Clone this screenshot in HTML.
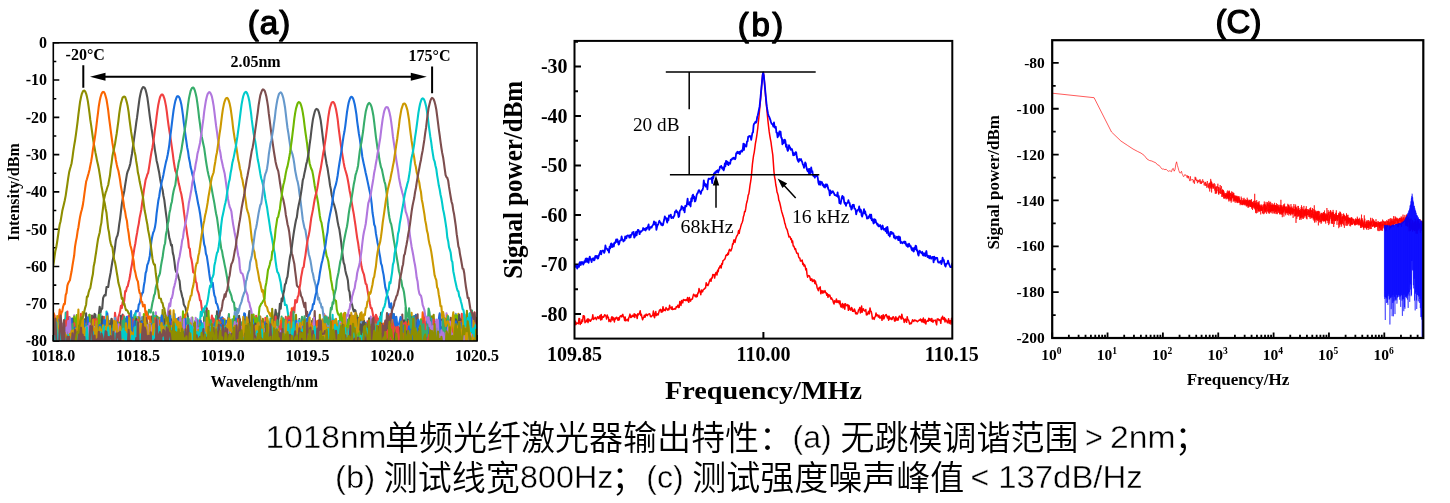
<!DOCTYPE html>
<html lang="zh-CN"><head><meta charset="utf-8"><title>1018nm单频光纤激光器输出特性</title>
<style>html,body{margin:0;padding:0;background:#fff}body{width:1450px;height:503px;overflow:hidden;font-family:"Liberation Sans","Noto Sans CJK SC",sans-serif}svg{display:block}</style>
</head><body>
<svg width="1450" height="503" viewBox="0 0 1450 503">
<rect width="1450" height="503" fill="#fff"/>
<g id="chartA">
<clipPath id="ca"><rect x="53.3" y="42.8" width="423.7" height="298.2"/></clipPath>
<path d="M53.30 42.80h6M53.30 61.44h3M53.30 80.07h6M53.30 98.71h3M53.30 117.35h6M53.30 135.99h3M53.30 154.62h6M53.30 173.26h3M53.30 191.90h6M53.30 210.54h3M53.30 229.18h6M53.30 247.81h3M53.30 266.45h6M53.30 285.09h3M53.30 303.73h6M53.30 322.36h3M53.30 341.00h6M53.30 341.00v-6M95.67 341.00v-3M138.04 341.00v-6M180.41 341.00v-3M222.78 341.00v-6M265.15 341.00v-3M307.52 341.00v-6M349.89 341.00v-3M392.26 341.00v-6M434.63 341.00v-3M477.00 341.00v-6" stroke="#000" stroke-width="1.6" fill="none"/>
<g clip-path="url(#ca)"><g fill="none" stroke-width="21" stroke-linejoin="round" transform="scale(.1)">
<path stroke="#515151" d="M529 3340l9 130 8 0 8-169 9-51 9 163 8 57 9-38 8 38 9 0 8-77 9-37 8 114 9-48 8 35 9-216 8 10 9 216 8-182 9 138 8-108 9 155 8-160 9-7 8 167 9-135 8-93 9 157 8-140 9 211 8 0 9 0 8-185 9 185 8-169 9 106 8-121 9 62 8 23 9-82 8-28 9-24 8-1 9 35 8 105 9-39 8 69 9-93 8-15 9-114 8-36 9 147 8-29 9-58 8-57 9-84 8 60 9-41 8 2 9-106 8-20 9-13 8 5 9-83 8-1 9 0 8-59 9-46 8-43 9-59 8-48 9-41 8-37 9-63 8-69 9-34 8-16 9-44 8-68 9-57 8-68 9-73 8-53 9-43 8-39 9-61 8-50 9-56 8-29 9-19 8-26 9-32 8-50 9-50 8-61 9-60 8-59 9-64 8-63 9-58 8-63 9-69 8-58 9-44 8-34 9-21 8-12 9 1 8 7 9 20 8 31 9 42 8 57 9 69 8 66 9 64 8 56 9 54 8 55 9 48 8 60 9 51 8 55 9 36 8 42 9 43 8 54 9 50 8 37 9 31 8 55 9 44 8 66 9 72 8 56 9 95 8 35 9 60 8 25 9 46 8-5 9 80 8 29 9 64 8 69 9 29 8 2 9 28 8 32 9 28 8 82 9 33 8 37 9 28 8 56 9 16 8 14 9 47 8 5 9 57 8 20 9 46 8 10 9-16 8 24 9 98 8-130 9 57 8 32 9 20 8 98 9-136 8 162 9 0 8-162 9 150 8-48 9 60 8-155 9 155 8-83 9-43 8-114 9 49 8 113 9-88 8 158 9-65 8-87 9-63 8 223 9-20 8-110 9-17 8 37 9 57 8 53 9 0 8-126 9 126 8-44 9 44 8-12 9 12 8-26 9-11 8-88 9 125 8 0 9-23 8-80 9 103 8-162 9 94 8 68 9-150 8 40 9 72 8 38 9 0 8-127 9-34 8 28 9 51 8 66 9-225 8 138 9-89 8 138 9-97 8-14 9 165 8 0 9-138 8-40 9 38 8 118 9 22 8 0 9-187 8 21 9 134 8-133 9 119 8 46 9-70 8 70 9-173 8 173 9-100 8-101 9 138 8 63 9-180 8 52 9-71 8 140 9-64 8 69 9-83 8 57 9 60 8 20 9 0 8-22 9-102 8-7 9 81 8-117 9-86 8 232 9-131 8 33 9 7 8 28 9 84 8-190 9 190 8-102 9-64 8 24 9 142 8 0 9-88 8 88 9-226 8-17 9 189 8 6 9-50 8-181 9 279 8 0 9-125 8 120 9-166 8-120 9 126 8 165 9-95 8 53 9 42 8-155 9-63 8 72 9-114 8 260 9-55 8 55 9-90 8-133 9 149 8 47 9-136 8-53 9 112 8 38 9-153 8 82 9-89 8 226 9-77 8 77 9 0 8 0 9-144 8-35 9 137 8 21 9-201 8 222 9-144 8 144 9 0 8-99 9 33 8 66 9 0 8-109 9 109 8-263 9 123 8 139 9 1 8-71 9 71 8 0 9-151 8 151 9-143 8 143 9-122 8 14 9-90 8 22 9 176 8-179 9-94 8 273 9-165 8 96 9-58 8-210 9 337 8-92 9 92 8-56 9-130 8 107 9 79 8-192 9 59 8 133 9-140 8 140 9-103 8 57 9-164 8 146 9 64 8-311 9 225 8-19 9 105 8-270 9 24 8 11 9 97 8-55 9 13 8 180 9-229 8 229 9-158 8-22 9 180 8-192 9 54 8 11 9 87 8-72 9-75 8 187 9 0 8-200 9 200 8-213 9 213 8-68 9-157 8 11 9 196 8-173 9 8 8 183 9-135 8 135 9-277 8 277 9-280 8 128 9-48 8 12 9 50 8 134 9-6 8 10 9 0 8-33 9-64 8 45 9-150 8 153 9-143 8 52 9-112 8 99 9-67 8 44 9 86 8-110 9 200 8-111 9-4 8-80 9 195 8-88 9-75 8-20 9 167 8 16 9-136 8 136 9-99 8 15 9-32 8-113 9 36 8 49 9-27 8 97 9-60 8 8 9 105 8-88 9-166 8 191 9-30 8 114 9 0 8 0 9 0 8-236 9 140 8 96 9-223 8 210 9 13 8-240 9 138 8-179 9 161 8 120 9-1 8-100 9 85 8-143 9 88 8-201 9 251 8-114 9-140 8 100 9-78 8 7 9 174 8 38 9 34 8-92 9 15"/>
<path stroke="#F14040" d="M529 3470l9-68 8-248 8 283 9-80 9 22 8-39 9 33 8 7 9 8 8-80 9 162 8-101 9-37 8-11 9 149 8-263 9 83 8 156 9-52 8-125 9-16 8 177 9 29 8-231 9 67 8 58 9 46 8-38 9 95 8-203 9 70 8-13 9-172 8 167 9 164 8-58 9-167 8-19 9 96 8 57 9-120 8 208 9-16 8-92 9-60 8 25 9-10 8 157 9-85 8-34 9 33 8 22 9-120 8 85 9 66 8-197 9 86 8 144 9-177 8-126 9 81 8-23 9-16 8 78 9 106 8-167 9 189 8-121 9-55 8 16 9 48 8 40 9-214 8 65 9 38 8 22 9-85 8-19 9-37 8-54 9 21 8-59 9 23 8-41 9-93 8 4 9-43 8-6 9-43 8-29 9-50 8-56 9-44 8-61 9-53 8-52 9-45 8-54 9-49 8-50 9-43 8-57 9-43 8-41 9-68 8-56 9-69 8-48 9-56 8-21 9-32 8-14 9-52 8-52 9-60 8-48 9-42 8-51 9-66 8-62 9-62 8-69 9-68 8-52 9-43 8-31 9-19 8-9 9 1 8 13 9 24 8 33 9 45 8 56 9 75 8 59 9 60 8 48 9 60 8 57 9 62 8 67 9 55 8 48 9 18 8 27 9 30 8 50 9 34 8 41 9 32 8 45 9 55 8 70 9 64 8 66 9 47 8 59 9 50 8 80 9 10 8 79 9 31 8 47 9 80 8 4 9 6 8 83 9 14 8 71 9 22 8 28 9 53 8 4 9 70 8 44 9-21 8-2 9 35 8-21 9 147 8 39 9-128 8 87 9 5 8-29 9-78 8 50 9 19 8 21 9 144 8-115 9-85 8 280 9 0 8-202 9 194 8-100 9-62 8-120 9 155 8-24 9-99 8 204 9 54 8-257 9 257 8 0 9 0 8-207 9-4 8 24 9-48 8 197 9-68 8 44 9-73 8 3 9 132 8-166 9-26 8-11 9 91 8-41 9 56 8 97 9-245 8-3 9 230 8-81 9-56 8-21 9 32 8 16 9-30 8 158 9-156 8 48 9-203 8 25 9 111 8 84 9-121 8 186 9-236 8 162 9-41 8 122 9-23 8-251 9 106 8 87 9-132 8 121 9-46 8-11 9 118 8-81 9-85 8 39 9 177 8-97 9-240 8 318 9-40 8-80 9 139 8 0 9-256 8 256 9-237 8 84 9-14 8-135 9 302 8 0 9-237 8-3 9 68 8 138 9 34 8-105 9-67 8 172 9-234 8 174 9-36 8-139 9 152 8-146 9 74 8 111 9-15 8-121 9-25 8-3 9-42 8 47 9 13 8 83 9-21 8 121 9-62 8-62 9 40 8 91 9 0 8-266 9 266 8-249 9 82 8-24 9-3 8 113 9 42 8-36 9-127 8 200 9-135 8-23 9-23 8 11 9 172 8-293 9 230 8-136 9 77 8 10 9 44 8-200 9 176 8 92 9 0 8-62 9-169 8 140 9-48 8-96 9 25 8-8 9 24 8 57 9-19 8-27 9 26 8 14 9 65 8 50 9-79 8 63 9 44 8-221 9 210 8-207 9 27 8 60 9-144 8 275 9-138 8-119 9 92 8 120 9 45 8-141 9 141 8-210 9 18 8 192 9-74 8-184 9 56 8 195 9 7 8 0 9-35 8-143 9 23 8-107 9 87 8-55 9 121 8 32 9 31 8 46 9-296 8 272 9-209 8 149 9-99 8-8 9-62 8 197 9-95 8 66 9-108 8-50 9 219 8-188 9 120 8 92 9-23 8-154 9 29 8 107 9-50 8-47 9-72 8 196 9 14 8-229 9 129 8 100 9-241 8 72 9 115 8-66 9-16 8 132 9-23 8-235 9 99 8 20 9-1 8 46 9-32 8-95 9 131 8-99 9 193 8-122 9-76 8 43 9 111 8-135 9-89 8 268 9-146 8 6 9-10 8 149 9-250 8 243 9-115 8-70 9-16 8-59 9 263 8-43 9-157 8 20 9 65 8 120 9-123 8 11 9 11 8 101 9-247 8 247 9-174 8 119 9-187 8 204 9-1 8-176 9 209 8-187 9 117 8-42 9-109 8 16 9 140 8-104 9-5 8-20 9 135 8-221 9 240 8 46 9-92 8-46 9-194 8 309 9-93 8 62 9-80 8 35 9-143 8 215 9-26 8-123 9 49 8-100 9 163 8-151 9 146 8 35 9-174 8 56 9 3"/>
<path stroke="#1A6FDF" d="M529 3448l9-105 8 69 8-3 9-38 9-155 8 254 9-30 8-37 9-62 8 129 9-203 8 22 9 100 8 32 9 31 8-223 9 13 8 195 9-233 8 72 9 58 8 14 9-20 8-95 9 237 8-205 9 28 8 43 9 81 8-87 9 91 8-50 9 99 8-117 9 117 8-119 9 119 8-95 9-17 8-64 9 121 8 55 9-86 8-103 9-4 8-26 9 9 8 19 9 191 8-284 9 118 8 86 9 75 8-116 9 121 8-92 9-106 8 35 9-41 8 204 9-171 8-64 9 99 8-20 9 80 8-70 9-42 8 146 9-90 8-7 9 60 8 22 9-229 8 153 9 112 8-126 9-20 8-26 9-37 8 96 9-104 8 14 9 19 8 57 9-134 8 158 9-23 8-7 9-32 8-78 9 29 8 17 9-77 8 82 9-25 8-80 9-17 8-27 9-1 8 7 9-69 8-9 9-44 8-29 9-34 8-2 9-73 8-42 9-81 8-22 9-60 8-17 9-34 8-39 9-85 8-69 9-46 8-33 9-20 8-30 9-58 8-82 9-67 8-61 9-43 8-56 9-44 8-45 9-35 8-36 9-49 8-39 9-42 8-29 9-42 8-45 9-62 8-73 9-67 8-68 9-71 8-62 9-51 8-38 9-27 8-19 9-4 8 5 9 14 8 26 9 36 8 49 9 65 8 72 9 65 8 60 9 63 8 58 9 44 8 60 9 41 8 52 9 31 8 40 9 30 8 49 9 41 8 51 9 39 8 46 9 48 8 35 9 51 8 60 9 68 8 57 9 67 8 60 9 27 8 65 9 26 8 51 9 62 8 64 9 61 8 27 9 1 8-1 9 78 8 48 9 21 8 56 9 9 8 26 9 40 8 68 9 15 8 31 9-45 8 34 9 65 8 26 9 18 8-5 9-64 8 13 9 24 8 52 9 22 8-29 9-54 8 182 9-27 8-108 9 132 8-193 9-10 8 129 9-94 8 158 9 18 8-131 9-109 8 36 9-127 8 8 9 165 8 20 9 122 8-116 9 34 8-67 9 172 8-97 9 97 8-214 9 214 8-286 9 61 8 144 9-66 8-138 9 285 8-169 9-86 8 74 9 22 8 49 9 68 8-67 9-14 8-50 9 12 8-31 9 68 8-14 9 4 8 59 9 2 8 73 9 0 8 0 9-142 8 142 9-136 8 136 9-22 8-98 9 7 8-66 9 33 8 84 9-38 8-83 9 60 8-80 9 166 8-5 9 42 8-199 9-49 8 173 9 14 8 61 9-212 8 120 9-50 8 13 9 129 8 0 9-241 8 22 9 13 8 104 9 65 8-85 9 98 8-125 9 44 8 27 9-68 8 51 9 77 8-20 9-73 8 21 9-96 8 46 9-10 8 150 9-98 8 98 9-64 8-103 9 111 8-26 9-56 8 59 9-134 8 144 9-29 8-134 9 97 8 29 9-162 8 122 9-86 8 57 9-5 8-57 9 68 8 81 9-25 8-9 9-103 8 17 9 61 8 17 9-16 8-73 9-54 8 121 9 123 8 29 9-26 8-249 9 275 8-86 9-50 8 94 9-95 8 137 9-168 8 14 9-61 8-63 9 278 8-282 9 67 8 158 9-171 8 71 9 132 8-58 9 83 8-192 9 89 8-138 9 134 8 8 9 76 8-246 9 169 8-134 9-10 8 80 9 23 8 46 9-35 8-47 9-20 8-38 9 33 8 67 9 96 8-16 9-48 8-89 9-21 8 146 9-21 8 88 9 0 8-174 9-152 8 283 9 4 8 25 9-114 8 128 9-303 8 193 9-118 8 209 9-102 8-99 9 220 8 0 9-162 8-122 9 149 8 107 9-99 8 127 9-201 8 61 9 9 8 93 9-164 8 202 9-187 8 136 9 51 8-47 9-121 8-54 9-99 8 144 9 54 8 10 9-43 8 90 9 5 8-91 9-23 8 175 9-128 8 40 9-41 8-124 9-34 8 115 9-64 8 25 9 211 8-154 9 154 8 0 9-107 8 16 9-136 8 128 9 99 8-97 9 58 8 39 9-189 8 80 9-135 8 100 9-121 8 211 9-9 8 0 9-62 8-115 9 79 8 161 9-146 8 146 9-109 8 48 9-199 8 86 9-51 8 99 9-81 8 128 9-82 8 16 9 0 8 15 9 108 8-153 9 59 8 43 9-63 8-57 9 56 8 25 9-101 8 213 9-185 8 102 9-42 8-7 9-142 8 274 9-196"/>
<path stroke="#37AD6B" d="M529 3354l9 50 8-147 8 156 9 57 9-3 8-49 9-205 8 225 9 32 8 0 9 0 8-96 9 72 8-99 9-219 8 279 9-21 8 45 9 39 8-152 9-15 8 167 9-177 8 168 9-111 8 120 9 0 8-29 9-139 8 74 9 34 8-12 9-26 8 98 9-2 8-36 9-211 8 167 9-12 8-75 9 169 8-197 9-125 8 322 9-96 8 96 9-169 8 5 9 81 8-33 9-38 8 133 9-249 8 262 9-80 8-242 9 237 8-121 9-58 8 53 9-10 8 229 9-155 8 10 9 145 8-117 9 117 8-86 9 76 8 10 9 0 8 0 9-150 8 150 9-187 8 187 9-100 8 14 9 86 8 0 9-155 8-45 9-41 8 58 9 183 8 0 9-239 8 116 9-96 8 214 9-128 8 85 9 48 8-198 9 193 8-316 9 199 8-16 9-72 8 106 9 15 8 37 9-68 8 4 9-124 8 111 9-61 8-40 9-2 8-69 9 11 8-44 9-39 8 13 9 15 8-42 9-53 8-32 9-46 8-15 9-62 8-31 9-19 8-52 9-18 8-23 9-68 8-47 9-44 8-61 9-54 8-26 9-90 8-35 9-68 8-26 9-83 8-33 9-53 8-27 9-65 8-42 9-35 8-23 9-71 8-68 9-38 8-51 9-35 8-42 9-39 8-53 9-55 8-47 9-49 8-54 9-64 8-67 9-75 8-56 9-44 8-34 9-22 8-11 9-2 8 10 9 22 8 31 9 40 8 56 9 69 8 73 9 65 8 64 9 59 8 39 9 41 8 37 9 66 8 58 9 57 8 45 9 42 8 30 9 39 8 35 9 47 8 44 9 47 8 43 9 58 8 45 9 40 8 60 9 66 8 56 9 64 8 62 9 28 8 50 9 40 8 43 9 42 8 44 9 51 8 63 9 42 8 27 9 20 8 24 9 44 8 14 9 10 8 75 9-19 8 28 9 54 8 29 9-21 8 36 9 15 8 39 9 33 8 3 9 32 8-105 9 83 8-48 9 175 8-93 9-5 8 132 9-98 8-92 9-61 8 200 9 31 8 20 9 0 8-129 9 101 8 4 9-112 8-54 9-50 8 28 9 115 8 97 9-75 8 75 9 0 8-86 9-25 8-134 9 174 8-3 9 31 8 43 9-296 8 94 9 51 8 56 9-165 8 127 9-201 8 251 9-70 8 152 9-303 8 154 9 93 8 45 9-10 8-75 9 96 8-100 9 101 8-182 9 65 8 30 9-120 8 123 9 47 8-59 9 96 8-216 9 216 8 0 9-52 8-137 9 179 8-173 9-119 8 302 9-25 8-281 9 306 8 0 9-84 8-160 9 190 8 7 9-45 8-82 9 174 8-68 9 68 8-53 9 26 8 27 9-123 8 123 9 0 8-64 9-115 8 161 9-135 8-64 9 163 8-99 9-114 8 131 9 23 8 86 9-160 8 62 9 110 8-10 9-201 8 99 9-70 8 69 9 128 8-118 9-23 8 141 9-16 8 16 9-81 8 81 9 0 8-183 9 98 8-26 9 111 8-93 9-111 8 37 9-75 8 242 9-233 8 206 9-55 8 82 9-219 8 146 9-183 8 256 9-183 8 169 9-26 8-87 9 127 8-41 9-161 8 143 9-35 8 94 9-107 8 107 9 0 8-252 9 214 8 38 9 0 8 0 9 0 8-241 9 241 8 0 9-115 8 115 9-270 8 221 9-10 8 36 9 23 8-143 9-23 8-51 9 217 8-168 9 168 8-141 9-106 8 247 9 0 8-53 9-143 8-6 9 202 8-173 9-57 8 40 9 39 8 101 9 9 8-88 9-64 8-45 9 152 8 86 9-222 8 222 9-393 8 248 9 90 8-34 9 89 8 0 9-135 8 23 9 112 8 0 9-184 8-44 9 228 8-155 9-14 8 169 9-147 8 147 9-271 8 117 9 126 8-148 9 176 8-26 9 26 8-138 9-92 8 176 9 54 8-195 9 165 8-152 9 90 8-15 9-50 8-87 9 70 8-42 9 9 8 91 9 63 8 53 9-134 8 134 9 0 8-196 9-48 8 55 9 189 8-14 9-158 8-32 9-35 8 171 9 68 8-264 9 87 8 176 9-78 8-90 9 169 8-309 9 309 8-213 9-3 8 216 9-92 8-64 9 98 8-271 9 158 8-39 9 82 8 128 9-155 8 155 9-339 8 315 9-341 8 365 9-31 8 31 9-98 8 2 9-94"/>
<path stroke="#B177DE" d="M529 3200l9 77 8 83 8 94 9-50 9-123 8 78 9-156 8 130 9 137 8-106 9-9 8 112 9-50 8-115 9 32 8-95 9 162 8-57 9-105 8 85 9 64 8 82 9-116 8 116 9-317 8 259 9-143 8-22 9 223 8-86 9 86 8 0 9-116 8 17 9 32 8 39 9-185 8 213 9-121 8 121 9 0 8-256 9 86 8 170 9 0 8-230 9 91 8 139 9-84 8 44 9-61 8 101 9-267 8 22 9 43 8 202 9 0 8 0 9-212 8 119 9-68 8 161 9-12 8-79 9-35 8 77 9-9 8-202 9 5 8 15 9 123 8 117 9-69 8-4 9 73 8 0 9-76 8 76 9-124 8 89 9 35 8-9 9-56 8-38 9 44 8-88 9 10 8 137 9-35 8-64 9-3 8-12 9-43 8 117 9 40 8-125 9 35 8-201 9 291 8-154 9 154 8-342 9 342 8-7 9-120 8 16 9-30 8 141 9-140 8-191 9 331 8-28 9-61 8-153 9 26 8 216 9-56 8-61 9 113 8 4 9-348 8 257 9-168 8-12 9 127 8-83 9 91 8-35 9-149 8 22 9 98 8-106 9 58 8-57 9-26 8-55 9-49 8 28 9-77 8-5 9-41 8-54 9-30 8-34 9-43 8-54 9-84 8-41 9-35 8-47 9-50 8-62 9-29 8-65 9-43 8-38 9-44 8-43 9-56 8-61 9-41 8-48 9-47 8-62 9-44 8-61 9-29 8-56 9-41 8-57 9-36 8-36 9-39 8-55 9-60 8-64 9-62 8-73 9-60 8-49 9-39 8-27 9-14 8-7 9 7 8 15 9 24 8 39 9 51 8 62 9 75 8 66 9 62 8 62 9 48 8 58 9 39 8 57 9 40 8 38 9 36 8 33 9 60 8 59 9 67 8 71 9 46 8 35 9 19 8 26 9 72 8 54 9 49 8 48 9 43 8 63 9 59 8 52 9 31 8 96 9 44 8 6 9 6 8 27 9 48 8 63 9 33 8 21 9 22 8 61 9 13 8 40 9 26 8 47 9 23 8 19 9-11 8 65 9 54 8 53 9-36 8 40 9-38 8 77 9-32 8-20 9-111 8 91 9-20 8 51 9 27 8-70 9-80 8 56 9 83 8-60 9-103 8 29 9 244 8-305 9 232 8-17 9 90 8-188 9 188 8-134 9-67 8-16 9 217 8-49 9-28 8 11 9 66 8-140 9 50 8-166 9 137 8 72 9 47 8 0 9-23 8-4 9 27 8-21 9-119 8 131 9-39 8 48 9-273 8 162 9 111 8-168 9 62 8 59 9-89 8-65 9 78 8-101 9 139 8 37 9-212 8 190 9-105 8 100 9 75 8-5 9 5 8-247 9 247 8-55 9-17 8 72 9-110 8 24 9 86 8 0 9-130 8 130 9-333 8 123 9 210 8 0 9 0 8 0 9-229 8 185 9 11 8-50 9 83 8-160 9 160 8-43 9 19 8 24 9-100 8-24 9 124 8-262 9 44 8 218 9-234 8 234 9-57 8-78 9 86 8-132 9 97 8 84 9 0 8 0 9-161 8-43 9 32 8-22 9-124 8 160 9-50 8 208 9-26 8-211 9 237 8-55 9 55 8-222 9 3 8 5 9 181 8-34 9-21 8 29 9 59 8-33 9-110 8-161 9 304 8 0 9-218 8 74 9 144 8-141 9 141 8 0 9-23 8-235 9 106 8 81 9 71 8 0 9 0 8 0 9 0 8-203 9 203 8 0 9-42 8-175 9 144 8 73 9 0 8 0 9 0 8-194 9 36 8-50 9 168 8-177 9 50 8 157 9-174 8-73 9 257 8-51 9-161 8 89 9-71 8 113 9-40 8 10 9-40 8 151 9-103 8 103 9-152 8 131 9-231 8 6 9 246 8-81 9 81 8 0 9-158 8 6 9-44 8 196 9-69 8-100 9 21 8 148 9 0 8-143 9-93 8 236 9-3 8 3 9-126 8 126 9-3 8 3 9-150 8 150 9-124 8 108 9 16 8-9 9-39 8-206 9 254 8-197 9 162 8 35 9-73 8 73 9-337 8 337 9-10 8-134 9 144 8-60 9 60 8 0 9-117 8-1 9 50 8 68 9 0 8-227 9 227 8 0 9-19 8-142 9 102 8 59 9-225 8 225 9 0 8-43 9-44 8-85 9 172 8-63 9-30 8-185 9 240 8-111 9 149 8-154 9-73 8 49 9 134"/>
<path stroke="#CC9900" d="M529 3353l9 10 8-140 8 152 9-74 9 0 8-49 9 29 8-27 9 216 8-93 9 21 8-159 9 84 8 95 9-162 8 132 9-69 8 114 9-157 8 93 9 2 8 99 9-232 8 116 9-79 8-7 9 31 8-64 9 218 8-12 9-157 8 79 9 19 8 52 9 5 8-146 9-12 8 189 9-43 8-95 9 41 8-71 9 168 8 0 9-41 8-75 9 97 8-168 9 2 8 94 9 25 8-183 9 249 8-117 9 117 8-251 9 183 8 68 9-190 8-10 9 200 8-241 9 132 8 102 9-28 8-171 9-57 8 104 9-120 8 43 9 52 8 90 9 55 8-5 9-130 8 174 9 0 8-89 9-69 8-35 9 19 8 165 9-163 8 79 9-53 8 131 9-269 8 239 9-67 8-84 9-36 8 116 9 116 8 0 9-79 8-80 9 34 8-1 9 24 8-93 9 125 8-79 9 71 8-208 9 19 8 83 9 38 8-3 9-50 8 194 9-259 8 263 9-148 8 149 9 0 8-185 9 2 8 120 9-94 8-34 9-31 8-19 9-1 8 78 9-127 8 291 9-231 8 21 9 153 8-199 9 97 8 86 9-234 8 208 9-54 8 77 9-87 8-203 9 184 8 74 9-33 8 79 9 1 8-61 9-35 8 12 9-98 8 15 9 99 8-49 9 0 8-102 9 27 8 10 9-20 8-62 9-19 8-19 9-42 8-47 9-17 8-40 9-7 8-62 9-31 8-47 9-79 8-64 9-38 8-3 9-70 8-30 9-62 8-60 9-64 8-41 9-61 8-33 9-55 8-31 9-47 8-47 9-63 8-44 9-53 8-52 9-45 8-22 9-25 8-57 9-51 8-54 9-41 8-58 9-61 8-62 9-55 8-67 9-72 8-56 9-45 8-30 9-25 8-10 9-2 8 9 9 22 8 29 9 44 8 55 9 68 8 74 9 62 8 51 9 44 8 46 9 58 8 57 9 37 8 50 9 33 8 52 9 30 8 51 9 35 8 72 9 60 8 65 9 31 8 22 9 43 8 56 9 86 8 72 9 42 8 61 9 26 8 59 9 26 8 62 9 42 8 45 9 54 8 22 9 46 8 38 9-14 8 60 9 46 8 44 9 12 8 10 9 38 8 11 9 20 8 19 9-33 8 15 9 98 8 1 9-18 8 71 9 13 8-47 9 100 8 26 9-44 8-22 9-138 8 131 9 155 8-24 9 24 8-69 9-196 8 265 9-146 8-57 9 203 8-104 9-92 8 49 9-47 8 125 9-143 8-33 9 19 8 143 9 83 8-33 9-192 8 89 9-17 8-102 9 53 8 41 9-87 8 71 9 86 8-215 9 105 8 35 9-15 8 181 9-181 8 57 9 124 8-191 9 191 8-138 9 16 8-99 9 152 8-166 9 73 8-4 9-111 8 164 9-162 8 275 9-35 8-35 9 70 8-107 9-77 8 184 9-150 8-17 9 124 8-122 9 124 8 41 9-74 8-74 9-8 8 156 9-26 8-94 9-123 8 243 9-211 8 29 9 124 8-103 9-70 8 111 9 120 8-80 9-147 8-11 9-104 8 115 9 36 8 57 9 4 8 60 9 70 8-64 9-124 8 22 9 69 8-235 9 141 8 165 9 26 8-161 9 142 8-76 9 2 8-8 9 36 8-69 9 134 8 0 9-217 8 98 9 119 8-262 9 89 8 15 9 158 8-47 9-36 8 24 9 16 8-201 9 244 8 0 9-119 8 113 9-183 8 140 9-172 8 144 9-135 8-17 9 191 8-129 9 0 8 20 9-160 8 159 9 148 8-104 9 104 8-133 9 133 8-198 9 19 8 23 9 104 8 52 9-118 8-98 9 42 8 82 9 92 8-67 9-134 8 201 9-239 8-104 9 343 8-2 9-171 8 42 9-66 8 155 9-40 8-68 9 17 8-51 9 163 8-246 9 267 8-116 9 116 8 0 9-145 8 145 9-186 8-36 9 33 8 135 9-103 8 157 9-100 8-82 9-54 8 236 9-44 8-82 9-94 8 57 9 67 8 36 9-186 8 81 9-111 8 232 9-143 8-70 9 186 8-247 9 209 8 87 9-86 8-103 9 119 8 2 9-33 8-7 9 32 8-73 9 171 8-90 9-241 8 170 9-99 8 196 9-87 8-13 9-32 8 196 9-140 8-73 9 43 8 170 9 0 8-150 9-55 8 82 9 76 8 47 9-133 8-81 9-8 8-67 9 214"/>
<path stroke="#00CBCC" d="M529 3226l9 49 8 75 8-22 9 44 9-98 8 191 9-269 8 151 9-28 8 4 9-66 8 11 9 9 8-84 9 108 8-178 9 263 8-64 9 3 8 118 9-120 8-23 9-96 8 266 9-150 8 102 9-99 8 26 9 50 8 47 9-61 8 8 9-63 8 55 9-138 8 97 9 121 8-28 9-175 8-1 9 150 8-176 9 235 8 0 9-119 8 110 9 9 8-148 9-31 8 7 9-2 8-22 9 44 8 152 9 0 8-156 9 65 8-26 9 0 8 45 9-186 8 227 9-324 8 235 9 8 8 90 9 22 8-195 9-31 8 179 9 47 8-106 9-8 8-54 9-45 8 128 9 85 8-120 9-23 8-91 9 178 8-78 9-64 8 30 9 164 8-56 9-74 8 82 9 52 8 0 9-210 8-4 9 214 8-173 9 173 8-223 9-114 8 160 9 77 8 68 9 32 8-129 9 129 8-107 9-158 8 101 9-33 8 187 9-142 8 21 9 75 8-76 9 132 8-204 9 139 8-117 9 60 8-19 9-45 8-124 9 251 8-46 9 69 8-172 9 34 8-18 9-102 8 10 9 46 8-23 9 252 8-50 9-99 8-58 9 199 8-289 9 239 8-79 9 29 8-88 9 205 8-141 9 104 8-60 9-48 8-9 9 21 8 133 9-76 8-179 9 172 8-52 9 55 8-103 9 183 8-89 9-82 8-27 9 49 8 25 9-94 8-36 9 30 8 103 9-64 8 142 9-151 8 21 9-28 8-75 9 49 8-34 9 10 8-100 9 40 8-35 9-39 8 28 9-49 8 11 9-33 8-31 9-57 8-57 9-41 8 12 9-85 8-13 9-29 8-87 9-39 8-44 9-42 8-13 9-49 8-61 9-66 8-88 9-71 8-35 9-43 8-42 9-37 8-38 9-65 8-44 9-55 8-28 9-64 8-39 9-60 8-30 9-42 8-41 9-43 8-53 9-55 8-61 9-65 8-66 9-72 8-59 9-48 8-36 9-24 8-12 9-6 8 7 9 20 8 25 9 39 8 54 9 63 8 73 9 68 8 59 9 52 8 34 9 60 8 64 9 62 8 36 9 53 8 50 9 46 8 25 9 38 8 33 9 56 8 54 9 47 8 41 9 64 8 51 9 60 8 58 9 42 8 47 9 49 8 48 9 44 8 73 9 62 8 44 9 11 8 22 9 41 8 35 9 73 8 24 9 31 8 27 9 67 8-3 9 7 8 50 9 61 8 34 9-1 8 35 9 35 8-58 9 70 8 61 9-59 8 84 9-57 8-69 9-30 8-3 9 68 8 195 9-174 8 23 9 54 8-97 9 191 8-227 9 168 8-112 9 49 8 65 9-143 8 136 9-35 8 40 9-194 8 231 9-57 8 34 9 48 8-224 9 101 8-42 9 88 8-74 9 18 8-78 9 148 8-151 9 3 8-79 9 219 8 71 9-224 8 124 9-73 8 77 9-225 8 321 9-275 8 201 9 74 8-36 9-33 8-191 9 163 8-163 9 179 8-170 9 126 8 93 9-15 8 47 9-74 8 74 9-111 8-64 9 175 8-163 9 36 8 50 9-103 8 114 9-60 8 30 9-29 8 125 9-110 8-96 9 82 8-31 9-59 8 214 9-238 8 98 9 34 8 71 9 12 8-67 9-5 8-15 9 36 8-83 9-67 8 123 9-20 8-116 9 210 8-99 9-72 8 38 9-37 8 119 9-188 8 154 9 112 8-41 9 41 8-200 9-28 8 120 9 75 8-120 9 27 8 5 9-62 8 97 9 30 8-164 9 220 8-156 9 156 8-115 9 52 8-73 9-16 8 56 9-133 8 133 9-30 8-108 9 234 8-83 9 61 8-201 9 223 8-138 9-35 8-141 9 265 8-137 9 9 8 29 9 18 8-59 9 49 8 42 9-53 8-5 9-74 8 139 9-138 8-7 9 24 8 110 9-30 8-51 9-16 8 199 9 0 8-179 9 3 8-54 9 191 8-107 9-154 8 34 9 172 8 47 9-178 8 192 9-11 8-92 9 75 8-24 9-166 8 2 9 104 8 83 9-75 8-40 9-18 8 26 9-47 8 112 9-17 8 121 9-204 8 204 9-80 8-55 9-135 8 91 9 164 8-21 9-81 8-184 9 216 8 42 9-179 8 149 9 73 8-84 9-65 8 12 9 112 8-130 9 44 8 15 9-52 8 148 9-154 8 81 9-89 8 108 9-172 8 104 9-95"/>
<path stroke="#7D4E4E" d="M529 3282l9 51 8-151 8 288 9-118 9 118 8-190 9 50 8-24 9-132 8 127 9 169 8-45 9-158 8 66 9-42 8 179 9 0 8-114 9-185 8 145 9 100 8-199 9 253 8-229 9 24 8 28 9 122 8-89 9 144 8-140 9-50 8-34 9 148 8-139 9 215 8-20 9-9 8-241 9 270 8-286 9 228 8 58 9-265 8 71 9 142 8-263 9 222 8-41 9-37 8 171 9-160 8 160 9 0 8-198 9 126 8 72 9 0 8-5 9-203 8 208 9-223 8 169 9 54 8-149 9 149 8 0 9-230 8 215 9-141 8 156 9-117 8 117 9-54 8-123 9 117 8 60 9 0 8 0 9 0 8-143 9 143 8-325 9 325 8-64 9-118 8-10 9 192 8-272 9 113 8-20 9-61 8 144 9-43 8 16 9-48 8 171 9-154 8 154 9-140 8-154 9 294 8-78 9 78 8 0 9-103 8-24 9 42 8 85 9-10 8-281 9 101 8 34 9 20 8-96 9 232 8-304 9 200 8-78 9 130 8-77 9-109 8 238 9 0 8 0 9 0 8 0 9-96 8-175 9 271 8-97 9 97 8-195 9 179 8 16 9 0 8-118 9-236 8 310 9-187 8 200 9-208 8 239 9-167 8 167 9-149 8 142 9 7 8-291 9 219 8 72 9-157 8 55 9-8 8-66 9 176 8 0 9-28 8 28 9-69 8-5 9 74 8-218 9 218 8 0 9-50 8-10 9-8 8 14 9-37 8-4 9-79 8-17 9-48 8 34 9 205 8-106 9 6 8 100 9-81 8-31 9-276 8 388 9 0 8-273 9 132 8 141 9-170 8 66 9-62 8 41 9 37 8-187 9 69 8-94 9 0 8-18 9-43 8-2 9-42 8-58 9-19 8-44 9 23 8-46 9-17 8-52 9-70 8-30 9-69 8-43 9-15 8-23 9-48 8-46 9-37 8-73 9-42 8-52 9-63 8-42 9-60 8-56 9-48 8-43 9-41 8-56 9-49 8-51 9-42 8-44 9-43 8-59 9-52 8-48 9-35 8-48 9-58 8-63 9-60 8-60 9-62 8-67 9-56 8-44 9-28 8-21 9-11 8 4 9 9 8 22 9 34 8 44 9 57 8 73 9 67 8 64 9 70 8 58 9 64 8 55 9 55 8 50 9 37 8 30 9 21 8 48 9 64 8 53 9 57 8 41 9 26 8 38 9 49 8 63 9 46 8 49 9 33 8 44 9 76 8 74 9 63 8 27 9 42 8 36 9 77 8 62 9 79 8 12 9 3 8 22 9 28 8 40 9 13 8 31 9 38 8 29 9-43 8 131 9-41 8 48 9 41 8 126 9-58 8-10 9-57 8 122 9 7 8-226 9 272 8-45 9 8 8-23 9-17 8 8 9 78 8-17 9 24 8 71 9-15 8-185 9 82 8 118 9-77 8-182 9 145 8-194 9 89 8 140 9 79 8 0 9-148 8 148 9-178 8-24 9 45 8 97 9 60 8 0 9 0 8-4 9-189 8 56 9-3 8 140 9-217 8 13 9 97 8-109 9-101 8 317 9-198 8 160 9 38 8-135 9-70 8-33 9 166 8-161 9 233 8 0 9-132 8 45 9-137 8 154 9-196 8 16 9 166 8-4 9 66 8 22 9 0 8 0 9-101 8 101 9-94 8-185 9 127 8 60 9-100 8 105 9-42 8-102 9 231 8-61 9-132 8 193 9-82 8 82 9-159 8 93 9 66 8 0 9-157 8 19 9 138 8-220 9-30 8 143 9 107 8-7 9-231 8 238 9-111 8-113 9 65 8 40 9 39 8-55 9 59 8 76 9-324 8 324 9 0 8-121 9 44 8 77 9 0 8 0 9-31 8-102 9 133 8-300 9 166 8 29 9-59 8-142 9 39 8 77 9-138 8 328 9 0 8 0 9-187 8 9 9 148 8-207 9 124 8 113 9-91 8 91 9-236 8 62 9 174 8-137 9-16 8 34 9-115 8-17 9 251 8-57 9-124 8 181 9-184 8 184 9-70 8-50 9-156 8 135 9-101 8 98 9 144 8-227 9 37 8 126 9 64 8 0 9-239 8-52 9 8 8 91 9 99 8-215 9 176 8 71 9 61 8 0 9-205 8 155 9 50 8-271 9 189 8 82 9-184 8 184 9 0 8 0 9 0 8 0 9 0 8-180 9 87 8 55 9 38 8-184 9-98 8 163 9 33 8 86 9-183"/>
<path stroke="#8E8E00" d="M529 2679l9-57 8-60 8-55 9-35 9-57 8-55 9-64 8-51 9-33 8-48 9-56 8-33 9-37 8-36 9-46 8-56 9-61 8-57 9-56 8-33 9-30 8-31 9-59 8-62 9-57 8-46 9-61 8-61 9-69 8-71 9-69 8-60 9-44 8-33 9-22 8-11 9-1 8 9 9 21 8 30 9 43 8 54 9 69 8 67 9 58 8 57 9 65 8 53 9 47 8 45 9 43 8 44 9 36 8 40 9 55 8 51 9 64 8 42 9 55 8 43 9 38 8 50 9 43 8 76 9 82 8 37 9 72 8 38 9 28 8 11 9 68 8 52 9 30 8 43 9 56 8 47 9 60 8 30 9 32 8 47 9 51 8-6 9 59 8-5 9 37 8 28 9-1 8 11 9 22 8 4 9 102 8-32 9 42 8 69 9 28 8 56 9-168 8 89 9 81 8-39 9-191 8 296 9 0 8-253 9 253 8-248 9 224 8-122 9-92 8 0 9 53 8 91 9 34 8-2 9-198 8 127 9-90 8 223 9-46 8-84 9 89 8-269 9 310 8-156 9-39 8 195 9-193 8 48 9-226 8 118 9 164 8-117 9 61 8 113 9-141 8 18 9-110 8 265 9 0 8 0 9-173 8-44 9 138 8-47 9 25 8 101 9 0 8-200 9 7 8-34 9 50 8 177 9-132 8-8 9 140 8-291 9 215 8-129 9 18 8 19 9-81 8 171 9-127 8 54 9 151 8-6 9 6 8 0 9-153 8 153 9-208 8 146 9 2 8 60 9-142 8 142 9-172 8-5 9 177 8-154 9 154 8-191 9 191 8 0 9-239 8 116 9-55 8 178 9-186 8 186 9-272 8 170 9 20 8 82 9 0 8-91 9-154 8 8 9 176 8 61 9 0 8-276 9 144 8 132 9-260 8 98 9-24 8-10 9 57 8 113 9 26 8 0 9 0 8-159 9 159 8-190 9-11 8-60 9-3 8-7 9 145 8 9 9 106 8-121 9 17 8 109 9 6 8-248 9 81 8 167 9-36 8-155 9 165 8-113 9-80 8 19 9 117 8 83 9-53 8-137 9 111 8-198 9-12 8 26 9 76 8 187 9-281 8 89 9 179 8 13 9-18 8-105 9 123 8-234 9 177 8-114 9 171 8-383 9 165 8 128 9 90 8-264 9 216 8 4 9 44 8 0 9-91 8-13 9 60 8 44 9-262 8-9 9 271 8-242 9 137 8 15 9-216 8 9 9 258 8-142 9 171 8 10 9-198 8 47 9-31 8-140 9 265 8-98 9 41 8 114 9-67 8 67 9-100 8 100 9 0 8-249 9 215 8-19 9-80 8 133 9 0 8 0 9-142 8 22 9 119 8-279 9 265 8 15 9-138 8 138 9-230 8 102 9 128 8-321 9 288 8-51 9-44 8-3 9-7 8 138 9-96 8 96 9-54 8-18 9-81 8 153 9-123 8 96 9-70 8 97 9-201 8 7 9 194 8-51 9 15 8 36 9 0 8-50 9 50 8-103 9-68 8 171 9-158 8-82 9 240 8-220 9-2 8-17 9 147 8-33 9 125 8-194 9 14 8 42 9 46 8 92 9 0 8-14 9 14 8-74 9 74 8-327 9 320 8 7 9-284 8 284 9-227 8-5 9 149 8 83 9-12 8-102 9-82 8 34 9 13 8 110 9-179 8 218 9 0 8-118 9-69 8 34 9-6 8 128 9-178 8 209 9-4 8 4 9 0 8-149 9-42 8 191 9-95 8-199 9 159 8-121 9 39 8-11 9 171 8-86 9-184 8 327 9-236 8 217 9-88 8-64 9 124 8-22 9 69 8-82 9 82 8-148 9 35 8-107 9 154 8-152 9-11 8-6 9 48 8 35 9 20 8 96 9-55 8-2 9-217 8 310 9-63 8-67 9 130 8-182 9 173 8-132 9 39 8-66 9 168 8-137 9-119 8 59 9 100 8-8 9-15 8 51 9 69 8-98 9 8 8-217 9 149 8-165 9 229 8-48 9 40 8 102 9 0 8-62 9-147 8 209 9 0 8-92 9 82 8 9 9-264 8 175 9-73 8 77 9-99 8 101 9 11 8-101 9 89 8-153 9 238 8-256 9 256 8-38 9-71 8 109 9-11 8-167 9 117 8 61 9-180 8 75 9-57 8-90 9 158 8-41 9-227 8 362 9-119 8 119 9-146 8 146 9-32 8 32 9-180 8 84 9 41 8 55 9-226"/>
<path stroke="#FB6501" d="M529 3284l9-151 8 121 8-38 9-23 9 37 8 13 9-61 8-86 9 76 8-46 9-15 8-44 9-28 8 2 9-92 8-19 9-74 8-24 9-17 8-13 9-49 8-40 9-60 8-47 9-53 8-84 9-55 8-38 9-63 8-38 9-60 8-48 9-42 8-27 9-40 8-51 9-69 8-56 9-64 8-26 9-32 8-28 9-35 8-41 9-44 8-49 9-67 8-50 9-53 8-55 9-70 8-69 9-71 8-66 9-53 8-37 9-29 8-17 9-7 8 2 9 14 8 27 9 33 8 48 9 61 8 71 9 67 8 62 9 66 8 59 9 55 8 31 9 30 8 52 9 46 8 36 9 29 8 42 9 53 8 60 9 46 8 59 9 54 8 61 9 38 8 52 9 34 8 72 9 51 8 66 9 56 8 25 9 39 8 53 9 42 8 83 9 32 8 43 9 30 8 16 9 72 8 42 9 9 8 80 9 2 8 44 9-14 8-1 9 101 8-35 9 31 8 41 9-20 8-1 9 91 8-27 9 28 8-82 9 172 8-168 9 257 8-180 9-71 8 71 9-50 8 23 9 240 8-79 9-171 8 83 9 41 8-142 9 85 8 180 9-142 8 56 9 71 8-89 9 24 8-46 9 8 8 28 9 15 8-52 9 19 8-18 9 5 8 92 9-118 8 150 9-183 8-101 9 166 8-19 9-185 8 203 9 119 8-169 9 146 8-173 9 196 8-141 9-17 8-80 9 67 8 171 9-153 8 13 9-131 8 185 9-18 8-70 9 69 8 97 9-38 8-97 9 15 8 110 9-87 8-32 9 137 8 0 9 0 8 0 9-150 8 9 9 141 8-196 9-25 8 91 9-35 8-2 9 109 8-208 9 246 8-61 9 81 8-201 9 146 8-224 9 8 8 271 9-108 8-17 9 47 8 61 9-71 8-42 9 11 8 24 9-69 8 67 9-156 8 218 9-82 8-54 9-10 8-75 9 193 8-153 9 97 8 119 9-206 8 206 9-68 8-104 9 111 8 42 9-155 8-45 9 163 8-29 9-77 8 32 9 35 8-191 9 196 8 69 9-59 8-79 9 116 8 31 9 12 8-304 9 127 8 177 9-171 8 6 9-68 8 222 9-222 8 33 9 200 8-140 9-4 8-9 9 153 8-147 9 66 8-120 9 59 8 84 9 51 8-86 9-56 8 34 9 115 8-263 9 61 8 74 9-14 8-34 9 30 8 46 9-127 8 122 9 14 8-36 9 15 8-28 9-246 8 318 9-101 8-37 9 206 8-95 9 95 8-44 9 44 8-143 9 86 8-161 9 127 8 10 9 25 8 27 9-190 8 219 9-233 8 132 9 101 8-131 9 80 8 4 9-191 8 56 9 182 8-99 9 1 8 30 9-194 8 241 9-3 8-111 9-90 8 225 9-98 8 11 9-94 8-134 9 116 8 129 9 39 8 31 9-126 8-79 9 18 8 127 9-203 8 263 9-222 8 53 9 113 8-163 9 219 8-17 9-138 8-133 9 82 8 158 9-223 8-59 9 179 8 20 9 130 8 1 9 0 8-4 9 4 8-86 9 52 8-41 9-86 8 161 9-35 8-95 9-199 8 126 9 203 8-186 9 17 8 81 9 70 8-136 9-132 8 73 9 130 8 0 9-91 8 7 9-84 8 128 9 27 8 44 9-27 8 37 9 14 8 28 9-47 8-121 9-62 8 119 9-172 8 23 9 260 8-139 9 4 8-49 9-50 8 158 9-143 8 219 9-184 8 184 9 0 8-210 9 167 8-143 9 73 8-38 9 71 8 80 9-243 8-1 9 109 8 23 9 75 8 27 9 4 8 6 9-107 8-133 9 168 8-97 9-6 8 138 9-154 8 76 9-146 8 11 9 155 8-1 9-185 8 268 9-282 8 49 9 173 8-41 9-97 8 211 9-7 8-205 9 53 8-8 9-181 8 199 9 74 8-150 9 39 8 114 9 60 8-159 9 91 8 48 9-18 8-204 9 148 8-44 9 150 8 0 9 0 8-136 9 85 8 51 9-323 8 192 9 98 8-190 9 55 8 6 9-103 8 163 9-99 8 182 9 19 8 0 9-153 8 26 9 61 8-101 9-65 8 232 9-188 8-29 9 57 8-20 9 87 8 93 9-232 8 199 9-151 8-76 9 30 8 83 9-1 8-85 9-17 8 246 9 4 8-160 9-24 8 54 9-4 8 56 9-71 8 149 9-178 8-39 9 37"/>
<path stroke="#6699CC" d="M529 3380l9 22 8 48 8-123 9-37 9 106 8 60 9-75 8-48 9 11 8 82 9-147 8 92 9 26 8-33 9 106 8-138 9 77 8-9 9-21 8-38 9 129 8 0 9-260 8 136 9-15 8-8 9 64 8-90 9-26 8-58 9 257 8-128 9 46 8 82 9 0 8-93 9-132 8-8 9 80 8 52 9 3 8-136 9 111 8 0 9 123 8 0 9-86 8-16 9-78 8 121 9-3 8 62 9-182 8 147 9-3 8-207 9 245 8-25 9 25 8-59 9 59 8-30 9 20 8-208 9 117 8-95 9 53 8 143 9-110 8 14 9 28 8 68 9-293 8 98 9 25 8 71 9-26 8-21 9 45 8 41 9-212 8 158 9-53 8-43 9 157 8-162 9 69 8 58 9-30 8-64 9 159 8-122 9 26 8-36 9 140 8-67 9 82 8-80 9-219 8 92 9-18 8 57 9 84 8-201 9-16 8 268 9-112 8-47 9-25 8 74 9-36 8 114 9-133 8 198 9-119 8 1 9 43 8-124 9 199 8-188 9 26 8 1 9 36 8-11 9 31 8-10 9-19 8-14 9 100 8 48 9-125 8 84 9-152 8 156 9-61 8-5 9 103 8-38 9-113 8 117 9-169 8-64 9 199 8 68 9-201 8 107 9-51 8 145 9-112 8-65 9 166 8 11 9-21 8 21 9 0 8-171 9 150 8-103 9-104 8-49 9 277 8-135 9 135 8-62 9-148 8 210 9-259 8 38 9 186 8-233 9 106 8 29 9-26 8 159 9-153 8-85 9 12 8 18 9 162 8-92 9-61 8 15 9-13 8 165 9-50 8 82 9 0 8-43 9 20 8-219 9 57 8 107 9-4 8-6 9-80 8 0 9 101 8 14 9-65 8 118 9-141 8-19 9 82 8 64 9-130 8-148 9 119 8-18 9 21 8 2 9-36 8 61 9-97 8-111 9 101 8-35 9-94 8 38 9-29 8-42 9-21 8-21 9-39 8-24 9-26 8-13 9-100 8-21 9-48 8-26 9-21 8-74 9-33 8-34 9-56 8-66 9-67 8-58 9-33 8-40 9-56 8-50 9-44 8-36 9-15 8-57 9-63 8-81 9-64 8-33 9-21 8-35 9-61 8-76 9-58 8-52 9-33 8-49 9-52 8-61 9-60 8-74 9-59 8-46 9-36 8-26 9-10 8-5 9 8 8 19 9 29 8 40 9 52 8 66 9 78 8 64 9 54 8 58 9 58 8 49 9 25 8 23 9 41 8 50 9 70 8 40 9 45 8 26 9 46 8 66 9 59 8 66 9 75 8 68 9 44 8 38 9 19 8 52 9 58 8 71 9 61 8 28 9 38 8 48 9 59 8 25 9 50 8 29 9 33 8 53 9 30 8 60 9-16 8 48 9 6 8 43 9-5 8 70 9 50 8-2 9 7 8-32 9 84 8 25 9-73 8 40 9 200 8-116 9-2 8 41 9-95 8 63 9-49 8 80 9-86 8 87 9-47 8-105 9 259 8-55 9-162 8 217 9-163 8 163 9-59 8 59 9 0 8-213 9 152 8-78 9-12 8 19 9-86 8 21 9 197 8-133 9 124 8 7 9-108 8-37 9 32 8-131 9 55 8-66 9 206 8-95 9 2 8-12 9 0 8 156 9-112 8 57 9 16 8-139 9 178 8-2 9-167 8 57 9 57 8 0 9-39 8-60 9-109 8 263 9-7 8 7 9-142 8 142 9 0 8-99 9-142 8 86 9 21 8 59 9-52 8 36 9-16 8-70 9 98 8 64 9-173 8 41 9-151 8 129 9-24 8 105 9 88 8-160 9 160 8 0 9-57 8-193 9 199 8-72 9 93 8-42 9 72 8-4 9-66 8-117 9 182 8-37 9-187 8 188 9-28 8-98 9 125 8-58 9-40 8-7 9-72 8 42 9 98 8 17 9 46 8-103 9 11 8-21 9 129 8-198 9-13 8 211 9-111 8 85 9-256 8 32 9 112 8-56 9 145 8 49 9-191 8 29 9 153 8-19 9 28 8 0 9-41 8-214 9 47 8 72 9-91 8 129 9-18 8-62 9 77 8 26 9 64 8-132 9 57 8-14 9-42 8-36 9 60 8-215 9 236 8-20 9 49 8-22 9-159 8 170 9-96 8 120 9-93 8 53 9 36 8-52 9-143 8 86 9-51 8-6 9 119 8-13 9 15 8 97 9-39 8-156 9-10 8 43 9 14"/>
<path stroke="#6FB802" d="M529 3470l9 0 8-20 8 20 9-181 9 181 8-57 9-2 8 38 9-89 8 50 9 60 8-101 9 101 8-163 9 115 8 48 9-173 8-22 9 195 8-227 9 227 8 0 9-87 8-62 9-156 8 71 9 40 8-125 9 319 8-101 9 25 8 76 9-73 8 73 9-137 8-109 9 87 8 159 9-58 8-209 9 234 8-171 9-118 8 322 9-65 8 26 9-122 8-57 9 196 8 22 9-284 8 267 9-5 8-298 9 91 8 75 9-27 8 181 9-42 8-63 9 17 8 84 9-180 8 113 9 71 8 0 9-134 8 104 9-10 8 40 9 0 8-208 9 89 8-86 9 205 8-4 9 4 8-244 9 102 8 142 9-119 8 65 9-67 8 23 9 26 8 72 9-196 8-10 9 67 8 49 9-48 8 138 9-105 8-127 9 137 8 95 9-299 8 299 9-3 8-86 9 54 8-144 9-33 8 147 9 65 8-103 9-227 8 330 9-10 8-187 9-22 8 60 9 159 8-66 9-106 8 29 9-91 8 77 9 50 8-89 9 196 8-103 9 86 8-162 9 179 8 0 9-103 8-104 9 43 8 127 9 37 8-111 9-104 8 215 9-147 8 30 9 5 8 89 9-79 8 15 9-85 8 48 9-64 8 188 9-170 8 170 9-99 8-38 9-27 8 143 9 21 8-115 9-243 8 358 9-33 8 33 9 0 8 0 9 0 8 0 9 0 8 0 9 0 8-295 9 295 8-220 9 95 8 23 9 39 8-7 9-27 8 97 9-160 8 65 9-135 8 56 9 164 8-42 9 52 8-79 9 58 8 0 9-342 8 200 9 36 8 127 9-218 8 164 9 54 8-146 9 6 8 135 9-318 8 281 9-82 8-127 9 251 8-50 9 50 8-101 9 75 8-237 9 116 8 147 9-262 8 262 9-140 8 71 9-44 8 113 9-125 8 125 9-307 8 307 9-87 8 87 9-168 8 81 9-20 8 107 9-100 8-36 9 2 8 134 9 0 8-45 9-63 8 108 9-119 8 51 9 17 8-175 9-15 8 112 9-72 8-124 9 71 8 96 9-131 8 74 9-45 8-46 9-91 8-15 9-22 8-5 9-18 8-13 9-15 8-115 9-41 8-56 9-74 8-20 9-32 8-38 9-13 8-78 9-16 8-69 9-55 8-84 9-58 8-55 9-12 8-41 9-39 8-71 9-56 8-59 9-53 8-28 9-44 8-47 9-42 8-25 9-45 8-41 9-56 8-58 9-64 8-68 9-73 8-71 9-59 8-43 9-30 8-25 9-10 8 1 9 10 8 21 9 32 8 41 9 57 8 68 9 69 8 57 9 61 8 70 9 69 8 55 9 32 8 24 9 19 8 39 9 55 8 56 9 47 8 39 9 42 8 46 9 64 8 62 9 50 8 19 9 55 8 50 9 74 8 67 9 39 8 49 9 22 8 30 9 63 8 41 9 78 8 38 9 62 8 14 9 81 8 14 9 5 8 87 9 35 8 17 9-2 8 53 9-64 8 72 9-19 8 69 9-25 8-100 9 141 8-2 9-7 8-69 9 164 8 76 9 36 8 0 9-26 8-10 9-99 8-111 9 185 8-252 9 83 8 72 9 158 8 0 9-186 8 186 9-69 8 69 9-208 8 4 9 146 8 36 9-180 8 75 9 127 8-160 9 160 8 0 9-137 8 44 9 93 8-156 9 156 8-16 9-60 8 76 9-133 8-17 9 106 8 44 9 0 8 0 9-101 8-28 9-7 8-121 9 257 8-12 9-126 8 138 9-36 8-98 9-107 8 81 9-11 8 76 9 95 8 0 9 0 8-117 9 43 8 74 9-117 8 117 9-147 8 49 9 98 8-127 9 127 8 0 9-34 8-27 9 61 8-199 9 199 8-69 9 69 8-196 9 189 8-95 9-165 8 267 9-123 8 123 9-278 8 278 9 0 8 0 9-43 8 43 9-45 8-46 9 5 8-29 9-100 8 215 9-162 8 17 9 37 8-43 9-62 8 135 9 78 8 0 9-259 8 259 9 0 8-177 9 111 8 66 9-53 8-16 9 29 8-241 9 32 8 249 9-50 8-184 9 234 8-63 9-57 8 120 9 0 8-40 9-277 8 133 9-132 8 139 9 91 8-73 9 49 8-106 9 56 8-3 9 163 8-69 9-127 8-76 9 272 8-74 9 22 8 52 9 0 8 0 9-68 8-146 9-52 8 177 9-15 8-39 9 15"/>
<path stroke="#515151" d="M529 3306l9-47 8 17 8 96 9-125 9 165 8-155 9 20 8 150 9-43 8 86 9-203 8 14 9 150 8-120 9 159 8-200 9-85 8 168 9 117 8-122 9 122 8 0 9-284 8 275 9-205 8 164 9 50 8-112 9 112 8 0 9-24 8 24 9-174 8 54 9-39 8 51 9-170 8 278 9-336 8 336 9-44 8-132 9 60 8 37 9-135 8 75 9 58 8-214 9-36 8 268 9-12 8-129 9 91 8 0 9 36 8-136 9 50 8-141 9 146 8 158 9-226 8 93 9 133 8-32 9 32 8 0 9-180 8-40 9-63 8 73 9 171 8-53 9-52 8 35 9 109 8-42 9-106 8 148 9 0 8-312 9 103 8 67 9 141 8-57 9 50 8-126 9-43 8 177 9 0 8-117 9 117 8 0 9-51 8-133 9 184 8-220 9 170 8-233 9 187 8 96 9 0 8 0 9-42 8-215 9 194 8 14 9-251 8 300 9 0 8 0 9-148 8 45 9 103 8-172 9 172 8 0 9 0 8-86 9-134 8 220 9-212 8 212 9-299 8 220 9 79 8-87 9-150 8 176 9 61 8 0 9-2 8-277 9 109 8-68 9 2 8 236 9-239 8 154 9-192 8 58 9 219 8-109 9-129 8 206 9-28 8 60 9-18 8-41 9 59 8 0 9-229 8 210 9-166 8 81 9-131 8 235 9 0 8 0 9-87 8-51 9 111 8-48 9-126 8 201 9-203 8 116 9 87 8-97 9-1 8 98 9-134 8 134 9-179 8 179 9-53 8 15 9 38 8-295 9-20 8 194 9 121 8-169 9 12 8 157 9-149 8-66 9 189 8 10 9-142 8 34 9-110 8 215 9-337 8 104 9 174 8-102 9 51 8-99 9 158 8-41 9 111 8-93 9 35 8 58 9-76 8-20 9-68 8 97 9-101 8-15 9 183 8-187 9 96 8-105 9 196 8 0 9-141 8 131 9-301 8 263 9-44 8 92 9-193 8 193 9-275 8 63 9 212 8-163 9-24 8-92 9-80 8 359 9 0 8-132 9 132 8-123 9 123 8-234 9 194 8-128 9 10 8 88 9 0 8-26 9 21 8-84 9-55 8-27 9 129 8-114 9 203 8-159 9 1 8 91 9 51 8-64 9-169 8 79 9-46 8 96 9-150 8-79 9 59 8 75 9-43 8-40 9-112 8 49 9-101 8 27 9-72 8-32 9-66 8-7 9-47 8-22 9-74 8-66 9-61 8-33 9-58 8-62 9-65 8-52 9-53 8-42 9-29 8-67 9-48 8-36 9-45 8-50 9-60 8-65 9-27 8-44 9-38 8-47 9-32 8-43 9-52 8-71 9-62 8-71 9-70 8-54 9-40 8-30 9-22 8-8 9 3 8 10 9 25 8 33 9 44 8 60 9 74 8 69 9 66 8 65 9 54 8 48 9 40 8 54 9 56 8 62 9 42 8 56 9 36 8 44 9 22 8 30 9 38 8 45 9 56 8 39 9 36 8 55 9 65 8 72 9 79 8 58 9 23 8 54 9 40 8 24 9 39 8 92 9 25 8 81 9 23 8 20 9 43 8 24 9-14 8 9 9 70 8 3 9-2 8 114 9 1 8-52 9 98 8-75 9-43 8-14 9 90 8 76 9 31 8-6 9-118 8-97 9 275 8-162 9-26 8 199 9-205 8 92 9 11 8-3 9 105 8-125 9 125 8-46 9-163 8-134 9 323 8-2 9-21 8 43 9-190 8 23 9 161 8-17 9-285 8 198 9 41 8-73 9-47 8 189 9-142 8 142 9-68 8-100 9 168 8-146 9-47 8 193 9-35 8 35 9-177 8 44 9-135 8 96 9 33 8-80 9 101 8 118 9-28 8-76 9 98 8-64 9-71 8 141 9-101 8-70 9-74 8 171 9-108 8 182 9-154 8 26 9-23 8 49 9 14 8-168 9 256 8-133 9 54 8-12 9-76 8-36 9 110 8 23 9-96 8 166 9-100 8-65 9 2 8-88 9 138 8-116 9 183 8 46 9-98 8 12 9 57 8-168 9-4 8 42 9-74 8 93 9-12 8 37 9 50 8-94 9 159 8 0 9-125 8-35 9 117 8-134 9 52 8-151 9 21 8 252 9-122 8-198 9 197 8-1 9-13 8 1 9 26 8 113 9-45 8-133 9 49 8-60 9 10 8 105 9 25 8 24 9-163 8 96 9-20 8-92 9 19 8 141 9-101"/>
<path stroke="#F14040" d="M529 3338l9-96 8 228 8-36 9-93 9-10 8-27 9 137 8-175 9-58 8 221 9-140 8 45 9 50 8-182 9 218 8-99 9-206 8 291 9-25 8 89 9-195 8-8 9 43 8 126 9-202 8 125 9 101 8 10 9-192 8 45 9 34 8-11 9 94 8-58 9 0 8 88 9-162 8-67 9-6 8 122 9-154 8 154 9-1 8-41 9-21 8-38 9 124 8-187 9 238 8-237 9 0 8 66 9 153 8 53 9-81 8-13 9-1 8-26 9 84 8-181 9 45 8 29 9 36 8-88 9 200 8 0 9 0 8 0 9-48 8 48 9 0 8-12 9-11 8-80 9 103 8-114 9 76 8-190 9 39 8 72 9 86 8-256 9-28 8 162 9 10 8-5 9 148 8-59 9-253 8 49 9 263 8 0 9-158 8-119 9 89 8 151 9-39 8-32 9 15 8-179 9 115 8-77 9 112 8 40 9 82 8 0 9-152 8 52 9 71 8-68 9 43 8-128 9 4 8 150 9-89 8-9 9 38 8 88 9-217 8-61 9 95 8 112 9-143 8-8 9 177 8 45 9-106 8-185 9 196 8-21 9-34 8 122 9-187 8 120 9-63 8-18 9 176 8-219 9 155 8-187 9 251 8 0 9-228 8 69 9-26 8 185 9 0 8-168 9 8 8-77 9 127 8-35 9-49 8 194 9-116 8-46 9-35 8 142 9-16 8 32 9 39 8-180 9 2 8 28 9 84 8 66 9-121 8 121 9 0 8-207 9 60 8 143 9-263 8 60 9 123 8 67 9-166 8 125 9 28 8 30 9-102 8-128 9 48 8 94 9-137 8-9 9 77 8-18 9-109 8 20 9 139 8-50 9-2 8 83 9 94 8-268 9 178 8-24 9-108 8 222 9-74 8 26 9-51 8-109 9 118 8-121 9-111 8 111 9 211 8-118 9-11 8 42 9-135 8 11 9 211 8-47 9-233 8 47 9 233 8-49 9 46 8-68 9 70 8-122 9-36 8-14 9-58 8 165 9 4 8-150 9 165 8 47 9-15 8-245 9 212 8-49 9 97 8-133 9-61 8 8 9-46 8 121 9 70 8-134 9 89 8-85 9 156 8-177 9-52 8 185 9-38 8-17 9-93 8 161 9 46 8-145 9 82 8 18 9-89 8-92 9 138 8-216 9 178 8-11 9-54 8-15 9 161 8-32 9-155 8 232 9-216 8-33 9 78 8-8 9 4 8-91 9-28 8 158 9-111 8-101 9 39 8-42 9-44 8 48 9-123 8 27 9-6 8-52 9-17 8-66 9-49 8-66 9-46 8-46 9-9 8-63 9-51 8-61 9-64 8-45 9-37 8-43 9-70 8-59 9-43 8-40 9-56 8-45 9-40 8-29 9-42 8-49 9-59 8-44 9-42 8-49 9-56 8-51 9-46 8-53 9-60 8-61 9-74 8-66 9-57 8-40 9-27 8-22 9-6 8 1 9 12 8 24 9 36 8 44 9 58 8 73 9 70 8 63 9 62 8 55 9 56 8 50 9 46 8 30 9 30 8 29 9 44 8 46 9 58 8 37 9 58 8 44 9 53 8 42 9 62 8 53 9 68 8 57 9 49 8 59 9 53 8 62 9 59 8 36 9 28 8 20 9 50 8 41 9 8 8 50 9 51 8 31 9 62 8 41 9 0 8 40 9 51 8 54 9-46 8-32 9 20 8 96 9-77 8 33 9 60 8 41 9-70 8 62 9-9 8 22 9-36 8 92 9-81 8 40 9 63 8-165 9-99 8 258 9-122 8 127 9-215 8 75 9-93 8 127 9 69 8-99 9 203 8 0 9-124 8-148 9 222 8-47 9-141 8 131 9-143 8 75 9-40 8 22 9 76 8 18 9 99 8-35 9-19 8 54 9-151 8-117 9 268 8-161 9-4 8 76 9-34 8 123 9-91 8-167 9 251 8 7 9-331 8 201 9 130 8-121 9 121 8-126 9-191 8 317 9 0 8-122 9 119 8-269 9 272 8-144 9-23 8 148 9 9 8-16 9 26 8-110 9 46 8-110 9 15 8-18 9 37 8 37 9 65 8-93 9-51 8 136 9-90 8-13 9 149 8 0 9-253 8 253 9-128 8 51 9-65 8 142 9-210 8-39 9 2 8 240 9-122 8-116 9 132 8 106 9 7 8-140 9 18 8 54 9 68 8 0 9 0 8-7 9-179 8 28 9-108 8-81 9 259 8-101 9 121"/>
<path stroke="#1A6FDF" d="M529 3375l9 95 8-70 8 10 9-132 9-24 8-58 9 248 8 1 9-9 8 34 9-135 8-31 9-79 8 152 9-1 8-76 9 52 8 79 9-153 8 120 9 72 8-282 9 264 8-98 9-63 8-15 9 145 8-120 9-20 8 127 9 62 8-214 9-15 8 124 9 26 8-137 9-46 8 262 9-83 8 28 9-242 8 201 9 2 8-94 9 188 8-126 9-77 8 159 9-14 8-148 9-35 8 139 9 80 8-69 9-129 8-1 9 95 8 126 9-147 8-117 9-6 8 13 9 243 8-323 9 94 8 89 9 147 8-50 9 57 8-179 9 88 8 91 9-12 8-23 9-215 8 45 9 130 8 43 9 32 8-147 9 20 8-3 9 67 8 1 9 0 8-202 9-39 8 250 9-191 8 114 9-19 8-210 9 281 8-47 9-53 8-79 9 249 8 8 9-159 8 84 9 16 8 0 9 1 8 13 9-208 8 118 9 135 8 0 9-107 8 1 9 106 8-151 9 100 8-78 9-102 8 81 9 78 8 35 9 29 8-212 9 97 8-63 9 70 8-55 9 62 8 60 9 49 8-314 9 53 8 158 9-42 8 87 9 21 8-90 9 87 8-49 9-24 8-198 9 259 8-78 9 23 8 59 9-282 8 192 9 50 8-81 9-114 8 172 9-76 8 150 9-190 8 189 9-4 8-88 9 93 8-246 9 181 8 102 9 0 8-10 9-145 8-16 9-90 8 80 9 57 8-70 9-4 8 14 9-79 8 182 9-49 8 22 9-30 8-121 9 135 8-67 9 191 8-41 9-80 8 83 9-151 8 89 9 32 8-17 9-118 8 33 9 170 8-156 9 156 8-226 9-17 8 110 9 116 8-83 9 9 8-115 9-14 8 65 9 115 8-233 9 91 8 181 9-73 8-189 9 227 8-165 9 128 8-138 9 93 8-76 9 194 8-72 9-100 8 18 9-130 8 147 9 71 8-47 9 113 8-90 9-75 8-21 9-11 8 91 9-68 8 41 9 105 8-40 9-54 8 94 9-146 8 85 9 17 8-1 9-206 8 69 9 95 8-28 9 103 8-96 9 90 8-80 9 86 8-23 9-80 8-9 9-28 8 34 9-44 8-58 9 114 8 120 9-185 8 94 9 105 8-205 9 166 8-186 9 117 8-10 9 105 8-123 9 136 8 0 9-168 8 19 9 100 8 43 9-66 8 58 9-113 8 127 9-139 8-17 9 101 8-128 9 36 8-118 9 114 8 122 9-120 8 141 9-109 8 117 9-237 8-24 9 148 8 68 9-97 8-1 9 119 8-167 9-11 8 46 9 8 8-71 9-29 8 27 9-62 8 18 9-56 8-4 9-29 8-11 9-12 8-53 9 0 8-49 9-42 8-25 9-69 8-19 9-46 8-57 9-50 8-45 9-34 8-36 9-45 8-34 9-57 8-65 9-44 8-83 9-51 8-43 9-40 8-46 9-62 8-49 9-53 8-26 9-29 8-37 9-52 8-58 9-59 8-48 9-55 8-54 9-67 8-52 9-46 8-54 9-72 8-65 9-56 8-41 9-29 8-18 9-10 8 2 9 14 8 23 9 35 8 46 9 56 8 72 9 64 8 59 9 49 8 60 9 54 8 65 9 45 8 39 9 39 8 40 9 38 8 38 9 43 8 39 9 39 8 43 9 69 8 86 9 57 8 63 9 22 8 67 9 50 8 46 9 37 8 59 9 48 8 60 9 23 8 49 9 43 8 60 9 65 8 27 9 49 8 14 9 39 8 69 9 5 8-43 9 102 8 44 9-40 8 82 9 34 8-87 9 83 8-15 9 5 8-26 9-46 8 76 9 68 8 4 9-62 8 54 9 68 8-20 9 13 8-44 9-65 8 10 9 38 8 130 9-25 8-123 9-129 8 220 9-54 8 96 9-221 8-7 9 64 8-45 9 112 8-18 9-56 8 82 9 134 8-5 9-73 8-51 9-8 8-132 9 31 8-57 9 77 8 61 9-11 8-4 9 12 8 26 9-72 8 82 9 124 8-280 9-57 8 241 9-84 8 3 9-29 8 206 9 0 8-266 9 179 8 80 9-120 8-79 9 111 8 65 9-50 8 80 9-130 8-14 9-89 8-22 9 143 8 99 9-26 8-43 9-138 8-17 9 1 8 173 9-179 8 242 9-128 8-121 9 88 8 46 9 115 8-125 9 61 8-231 9 69 8 63 9-44 8 20 9 97 8-142 9-15"/>
<path stroke="#37AD6B" d="M529 3141l9 188 8 113 8-109 9 6 9-28 8 85 9-176 8 145 9 105 8-127 9-12 8 139 9 0 8 0 9-2 8-180 9 182 8-83 9 43 8-88 9 57 8 10 9-169 8 230 9-10 8 10 9 0 8-89 9 8 8-135 9 97 8-33 9-94 8 246 9 0 8-29 9 29 8-117 9-102 8 87 9 132 8-13 9-44 8 57 9 0 8-152 9 122 8-154 9 170 8-52 9-155 8 181 9 40 8-174 9 174 8-202 9 202 8-138 9 138 8-94 9-103 8-18 9 122 8-108 9 83 8-47 9-12 8 76 9 101 8 0 9-216 8 216 9-231 8 92 9-17 8 59 9 97 8-15 9-52 8-53 9 120 8-262 9 82 8-123 9 303 8 0 9 0 8-6 9-174 8-101 9 121 8 160 9 0 8-128 9 128 8 0 9 0 8-154 9-100 8 60 9 120 8 74 9 0 8-200 9 7 8 155 9-53 8-151 9 242 8-170 9 119 8 11 9-62 8 102 9-160 8 122 9 38 8-348 9 348 8-188 9 53 8 70 9-232 8 260 9-127 8-39 9-32 8 227 9-16 8-67 9-124 8 215 9-179 8-62 9 241 8-2 9 2 8-33 9-131 8 36 9-23 8 14 9 34 8-120 9 73 8 150 9 0 8-166 9-54 8 220 9-181 8 38 9 135 8 8 9-48 8 48 9-8 8-20 9-264 8 82 9 210 8 0 9-275 8 114 9 160 8-39 9 40 8-93 9 93 8 0 9 0 8-94 9-142 8 46 9 190 8 0 9-78 8-54 9-215 8 347 9 0 8-260 9 260 8 0 9-3 8-265 9 268 8 0 9-48 8 48 9-132 8-181 9 313 8-168 9-78 8 246 9-67 8 58 9-118 8 127 9 0 8-175 9 175 8-185 9 34 8 41 9-220 8 231 9-86 8 185 9-276 8 241 9 35 8-77 9-183 8 161 9-104 8-20 9 223 8 0 9 0 8-1 9 1 8 0 9 0 8-257 9 129 8 128 9 0 8-235 9 232 8-8 9-186 8 197 9 0 8-33 9-165 8 75 9 123 8-125 9-43 8 168 9-308 8 229 9-74 8 6 9-22 8 99 9-143 8 77 9 63 8-236 9 205 8-61 9-30 8-92 9 239 8-75 9-98 8 221 9-3 8-205 9 203 8-262 9 202 8 65 9 0 8 0 9-134 8 134 9-287 8 193 9-176 8 248 9-162 8 60 9 124 8-109 9-117 8 226 9-98 8 98 9-351 8 239 9 112 8-81 9-131 8 131 9 33 8 48 9-159 8 71 9-88 8 2 9 174 8 0 9 0 8-220 9 106 8 114 9-163 8 147 9 16 8 0 9-69 8 69 9-130 8-20 9-7 8 124 9-127 8 36 9-19 8 142 9-85 8 7 9-54 8 23 9-118 8-74 9 53 8-47 9 41 8 28 9-33 8-54 9-77 8 14 9-69 8 12 9-83 8-36 9-33 8-81 9-41 8-37 9-56 8-51 9-30 8-60 9-39 8-58 9-49 8-40 9-43 8-34 9-59 8-68 9-57 8-38 9-42 8-50 9-56 8-53 9-42 8-49 9-28 8-28 9-41 8-70 9-72 8-48 9-43 8-56 9-60 8-68 9-65 8-54 9-35 8-28 9-18 8-8 9 6 8 14 9 25 8 36 9 48 8 63 9 78 8 69 9 63 8 57 9 39 8 61 9 48 8 36 9 21 8 41 9 44 8 37 9 27 8 55 9 65 8 92 9 76 8 50 9 43 8 18 9 48 8 52 9 60 8 44 9 53 8 49 9 53 8 47 9 65 8 25 9 48 8 24 9 59 8 17 9 38 8 60 9 81 8 80 9-5 8 34 9-91 8 98 9 96 8-18 9-90 8 6 9 29 8 149 9-66 8 63 9 86 8-28 9 63 8 0 9-264 8 192 9 72 8-227 9 227 8-159 9 43 8 6 9-111 8-163 9 40 8 91 9 100 8 87 9-139 8 205 9-162 8 162 9 0 8-226 9 169 8 57 9-130 8 130 9-109 8 109 9-297 8 272 9-165 8 190 9 0 8-123 9-183 8 143 9 128 8 35 9 0 8 0 9 0 8-11 9-33 8-62 9 85 8 21 9-233 8 209 9 24 8 0 9-167 8 167 9-127 8-197 9 125 8-2 9 201 8-117 9-131 8 248 9-98 8 15 9-65 8 57 9 5 8-23 9-45 8 154 9-196"/>
<path stroke="#B177DE" d="M529 3470l9-20 8-67 8-104 9 191 9 0 8-48 9-103 8-89 9 240 8-241 9 28 8 63 9-49 8 186 9-23 8-158 9 25 8-91 9 228 8-264 9 233 8 45 9 18 8-26 9-63 8 89 9-17 8-16 9-64 8 97 9 0 8-71 9-80 8 151 9-170 8 71 9 99 8 0 9-197 8 197 9-206 8 206 9-237 8 232 9-50 8 55 9 0 8-196 9-4 8 26 9 71 8 103 9 0 8-144 9 21 8 21 9-42 8-5 9 149 8-91 9-94 8 54 9-75 8 114 9-60 8 91 9-80 8 141 9-37 8-42 9-23 8 102 9-95 8-107 9 167 8-37 9-155 8 218 9 9 8-35 9-37 8 1 9 71 8 0 9-126 8 126 9-7 8-123 9 130 8 0 9-85 8-39 9 78 8 46 9-111 8 111 9 0 8 0 9-29 8-9 9-197 8 54 9 137 8 44 9-230 8 187 9-39 8-107 9 62 8 127 9-216 8 163 9-87 8-91 9 231 8-167 9-47 8 210 9 4 8-30 9 30 8 0 9-272 8 272 9-120 8 120 9 0 8-103 9 103 8-70 9-13 8 83 9-75 8 40 9 35 8-138 9 138 8-48 9-19 8 3 9 64 8 0 9-16 8-137 9 153 8-134 9 134 8-186 9 3 8-120 9 192 8 2 9 109 8-277 9 277 8-165 9 165 8-215 9 141 8 15 9-48 8 6 9-192 8 224 9-83 8-44 9 196 8-291 9 98 8 193 9-185 8-3 9 149 8 39 9-186 8 161 9-106 8-114 9 172 8 16 9 57 8 0 9-10 8-40 9-74 8-77 9 135 8-109 9-20 8 195 9 0 8-3 9 3 8-204 9 204 8-94 9-62 8 156 9 0 8 0 9-51 8 51 9-172 8 172 9-229 8 63 9 166 8-120 9 96 8-147 9 80 8 91 9-181 8-68 9 249 8-58 9-180 8 238 9-25 8-171 9 180 8-185 9 198 8-88 9-12 8 65 9-77 8 115 9-86 8 50 9-87 8 73 9-7 8-70 9 127 8-111 9-30 8 53 9 1 8-30 9-61 8-49 9 114 8 110 9-10 8 13 9-5 8 5 9 0 8-182 9 92 8 90 9-6 8-84 9 90 8-12 9-54 8-105 9 154 8 17 9-114 8 114 9-203 8 156 9 14 8-39 9 24 8-111 9 159 8-80 9 80 8-3 9-116 8-127 9 70 8 52 9 111 8 3 9 10 8-89 9-31 8 66 9 40 8-138 9 19 8 122 9-187 8-46 9 200 8-147 9 110 8-125 9 101 8 45 9-46 8-90 9 146 8-71 9-23 8 134 9 10 8-159 9 159 8-182 9 182 8-141 9-150 8 164 9 77 8 50 9-117 8-80 9 190 8-47 9 39 8-137 9 71 8-107 9-12 8 134 9 66 8 0 9-133 8 133 9-131 8 98 9 33 8-132 9-45 8 154 9-50 8-68 9 64 8-108 9 185 8-151 9 33 8-124 9 31 8 118 9-50 8 42 9-134 8 9 9-68 8-27 9 7 8-55 9-11 8-55 9-6 8-64 9-29 8-32 9-22 8-58 9-32 8-62 9-38 8-26 9-42 8-54 9-62 8-73 9-72 8-46 9-38 8-39 9-70 8-68 9-70 8-23 9-36 8-33 9-57 8-45 9-54 8-57 9-43 8-49 9-48 8-55 9-42 8-53 9-54 8-66 9-72 8-56 9-48 8-35 9-23 8-11 9-1 8 4 9 21 8 29 9 42 8 52 9 69 8 74 9 62 8 55 9 59 8 60 9 57 8 47 9 70 8 43 9 45 8 30 9 37 8 27 9 43 8 57 9 62 8 21 9 30 8 37 9 70 8 81 9 59 8 53 9 46 8 42 9 56 8 39 9 58 8 70 9 38 8 75 9 43 8 15 9 8 8 36 9 59 8 20 9 28 8 56 9 12 8 16 9 41 8-51 9 88 8-39 9 80 8 20 9-63 8 67 9 143 8-130 9-144 8 72 9-68 8 238 9-89 8 85 9-130 8 62 9-41 8 130 9 15 8-139 9 139 8-117 9-81 8 82 9-138 8 68 9 112 8 39 9-100 8-11 9 146 8-81 9 40 8 41 9-65 8-91 9 156 8-85 9 85 8 0 9-161 8 161 9-90 8-123 9 184 8 29 9-290 8 72 9 218 8 0 9-130 8 130 9-290 8 290 9 0 8 0 9-54"/>
<path stroke="#CC9900" d="M529 3272l9 103 8-125 8 122 9 32 9-244 8 172 9-14 8-60 9 132 8-53 9 40 8-80 9 41 8-9 9 104 8-79 9 1 8 115 9 0 8-131 9 25 8-56 9 162 8-166 9 74 8-35 9-57 8 184 9-153 8-222 9 364 8-152 9-117 8 224 9-293 8 349 9-187 8 98 9 89 8-178 9 115 8-29 9 92 8-7 9-1 8-28 9-233 8 156 9-72 8 185 9-258 8 127 9 84 8-68 9-81 8 26 9-5 8 175 9-218 8 137 9 54 8-165 9 76 8-192 9 308 8-139 9-74 8 213 9-101 8 101 9 0 8-263 9 87 8-78 9 47 8 207 9-57 8-92 9-53 8 91 9-47 8 40 9 61 8-89 9 49 8-139 9 236 8-152 9-26 8-111 9 202 8-64 9 12 8 3 9 63 8-118 9 11 8 180 9-51 8-122 9 86 8-45 9-100 8 3 9 184 8-167 9 61 8-153 9 98 8 0 9 132 8-16 9 27 8-162 9 225 8-127 9 127 8-226 9-5 8 231 9-69 8 69 9-31 8-117 9 26 8-62 9-16 8-40 9 144 8-105 9 63 8 26 9-70 8-116 9 105 8-35 9 228 8-179 9-30 8 209 9-176 8-190 9 147 8 93 9-153 8 279 9-257 8 14 9 243 8-244 9 53 8 191 9-167 8 24 9 51 8-67 9 76 8-123 9 60 8-36 9 182 8-238 9 108 8 99 9-32 8-108 9-7 8 85 9 93 8 0 9-171 8 82 9 89 8-172 9 46 8 58 9-13 8-15 9 22 8-26 9-192 8 36 9 240 8 16 9-170 8 40 9 39 8 1 9-108 8 133 9-34 8-75 9-90 8 188 9-91 8-33 9 69 8 20 9-76 8 187 9-59 8-31 9-22 8-99 9 42 8-80 9-37 8 123 9-107 8 109 9 23 8 40 9-65 8-48 9 115 8-108 9 37 8 167 9-273 8 238 9-67 8 43 9-40 8-202 9 180 8-95 9 147 8-228 9 22 8 99 9 62 8 77 9 31 8-48 9 12 8-86 9-13 8-60 9-13 8 70 9-27 8-74 9 204 8-96 9 59 8-55 9-104 8 237 9-129 8 38 9 3 8-205 9 37 8 151 9-84 8 46 9 29 8-156 9 143 8 127 9-251 8 70 9 101 8 80 9-181 8 34 9 147 8-54 9 54 8-99 9-33 8 109 9 8 8-250 9 265 8-79 9-135 8-37 9 251 8-127 9 39 8-158 9 133 8 113 9-105 8 95 9-219 8 229 9-48 8-156 9-36 8 114 9 126 8-87 9 87 8-195 9 59 8 26 9 110 8-119 9-84 8-91 9 294 8-154 9-56 8 210 9-178 8 49 9-63 8-4 9 78 8 6 9-42 8 113 9-61 8-149 9 251 8-238 9 208 8-197 9 91 8-54 9 12 8-14 9 192 8-159 9-33 8-14 9 114 8 92 9-261 8 127 9-147 8 52 9 67 8-2 9 123 8-151 9-38 8 230 9-180 8 53 9-216 8 195 9 148 8-132 9 132 8 0 9-188 8-45 9-69 8 129 9-138 8 145 9-115 8-60 9 204 8-56 9 39 8-127 9-17 8 12 9-62 8 75 9-1 8-54 9 8 8-68 9-9 8-57 9-10 8-82 9 15 8-15 9-45 8-35 9-59 8-16 9-60 8-44 9-89 8-55 9-47 8-25 9-31 8-51 9-68 8-72 9-61 8-55 9-66 8-55 9-45 8-51 9-36 8-34 9-35 8-44 9-40 8-45 9-42 8-58 9-57 8-56 9-57 8-65 9-63 8-70 9-53 8-45 9-27 8-25 9-7 8 0 9 13 8 23 9 30 8 46 9 56 8 75 9 70 8 61 9 58 8 62 9 47 8 58 9 36 8 54 9 30 8 39 9 33 8 55 9 42 8 74 9 41 8 51 9 52 8 63 9 42 8 58 9 33 8 59 9 44 8 29 9 45 8 51 9 63 8 55 9 70 8 25 9 23 8 72 9 16 8 60 9 46 8 66 9 0 8 113 9-54 8 45 9 31 8 66 9-28 8-21 9 4 8 28 9 103 8-54 9-33 8-65 9-73 8 223 9 64 8-98 9-33 8-16 9 45 8-88 9 77 8 6 9 45 8-83 9-92 8 153 9-67 8 174 9-20 8-131 9-32 8 15 9 124 8-1 9-2 8 71 9-257 8 248 9-159 8 55 9-161"/>
<path stroke="#00CBCC" d="M529 3470l9-128 8-46 8 107 9-177 9 211 8 33 9-7 8-170 9 177 8-69 9-115 8 184 9 0 8-49 9-32 8 80 9-15 8-104 9 102 8-53 9 17 8 42 9-92 8 4 9 100 8 0 9-85 8-45 9 121 8-73 9-5 8 42 9 17 8 14 9-76 8 52 9 38 8 0 9-84 8-112 9 112 8 14 9 54 8-110 9 113 8-29 9-107 8 120 9-2 8 31 9-17 8-14 9 31 8-74 9 74 8-146 9 146 8-55 9-81 8-66 9 202 8-76 9-69 8 21 9-72 8 120 9-34 8 21 9 56 8-48 9 19 8-79 9 52 8-42 9 43 8-36 9 124 8 0 9-117 8-36 9 67 8-82 9-16 8 100 9-66 8 150 9-129 8 57 9-29 8 101 9-70 8 70 9-113 8 5 9 25 8 41 9-159 8 133 9 48 8 20 9-117 8 117 9-128 8 58 9 53 8-116 9-7 8 36 9-8 8 7 9 1 8 104 9-99 8 26 9-35 8 88 9-87 8 104 9-97 8-17 9-62 8 179 9-122 8-6 9-74 8 193 9 2 8 7 9-92 8 92 9-100 8 72 9 19 8-205 9 36 8-21 9 195 8-80 9 84 8-186 9 32 8 58 9-137 8 61 9-29 8 201 9-90 8 28 9-71 8 133 9-10 8-164 9 155 8-46 9-87 8 113 9 39 8-134 9 66 8 68 9-221 8 75 9-60 8 14 9 166 8-86 9 26 8-65 9 27 8-24 9 6 8 142 9-191 8-7 9 55 8-90 9 64 8 81 9-54 8 142 9-120 8 83 9-13 8 50 9-29 8-168 9 197 8-205 9 133 8 72 9-72 8-25 9 46 8-142 9 82 8 100 9-144 8 155 9-195 8 44 9 101 8-147 9 2 8 161 9-56 8 90 9-39 8-40 9 79 8 0 9 0 8-115 9 95 8 17 9-12 8 15 9-105 8 70 9-24 8-2 9 61 8-59 9 59 8-64 9-24 8 88 9-125 8-14 9 10 8 44 9 10 8-70 9 65 8 80 9-241 8 241 9-25 8 25 9-61 8-96 9 157 8 0 9-106 8 44 9 62 8-175 9 175 8 0 9 0 8-80 9 17 8 63 9-128 8 20 9 108 8-148 9-57 8 73 9 2 8 39 9 15 8 14 9-117 8 114 9 65 8-80 9 22 8-37 9 95 8-62 9-78 8 118 9-81 8 103 9-3 8-85 9-138 8 145 9 0 8 54 9-151 8 94 9-164 8 248 9-10 8-64 9 74 8-96 9-40 8 136 9 0 8-147 9-28 8 74 9-23 8 124 9 0 8-244 9 44 8 69 9-29 8 147 9-153 8 118 9-50 8 31 9-87 8-51 9 205 8-175 9 127 8 10 9-133 8 48 9-124 8 247 9-55 8 31 9-6 8-17 9-44 8 16 9 75 8-180 9 102 8 0 9 33 8 45 9-24 8-65 9 31 8-165 9 202 8-178 9 199 8-131 9-51 8-32 9 95 8 86 9-12 8 45 9-109 8-80 9 189 8-86 9 86 8-137 9-42 8-7 9 186 8-5 9-119 8 124 9-191 8 128 9-11 8 74 9-95 8 10 9 85 8-112 9 83 8 29 9-133 8 109 9-51 8 75 9-185 8 50 9-9 8 144 9-141 8-38 9 142 8-51 9 3 8-87 9 33 8-54 9-25 8-5 9-32 8 23 9-70 8 52 9-89 8-21 9-32 8-10 9-38 8-50 9-26 8-44 9-13 8-75 9 11 8-53 9-57 8-77 9-28 8-82 9-41 8-30 9-49 8-77 9-33 8-67 9-49 8-49 9-51 8-42 9-61 8-41 9-43 8-29 9-38 8-26 9-52 8-54 9-79 8-47 9-41 8-41 9-55 8-64 9-58 8-59 9-68 8-63 9-51 8-41 9-28 8-20 9-5 8 3 9 15 8 26 9 34 8 48 9 61 8 69 9 68 8 59 9 54 8 63 9 58 8 50 9 21 8 42 9 35 8 61 9 53 8 52 9 39 8 50 9 40 8 49 9 61 8 35 9 50 8 51 9 60 8 84 9 37 8 59 9 27 8 30 9 76 8 16 9 92 8 39 9 48 8 35 9 41 8 31 9 7 8 50 9 16 8 36 9 32 8 43 9 12 8 54 9 100 8 5 9-23 8-58 9 36 8-80 9 123 8 52 9-18 8 40 9-50 8 82 9-112 8 35 9 114"/>
<path stroke="#7D4E4E" d="M529 3470l9-165 8 35 8-151 9 199 9 82 8 0 9 0 8-158 9-157 8 80 9 192 8-22 9-205 8 270 9 0 8 0 9-105 8 105 9-103 8 103 9 0 8 0 9-137 8 128 9-16 8-146 9 29 8 142 9 0 8-31 9-182 8 141 9-120 8 120 9-49 8 121 9-100 8 100 9-9 8-53 9 9 8-8 9 61 8-209 9 38 8-36 9 207 8-27 9-88 8 115 9-16 8-61 9 45 8-120 9 152 8-37 9-98 8 25 9 53 8 57 9-74 8-83 9 8 8 149 9-99 8 47 9-46 8-12 9 11 8 99 9-153 8 153 9 0 8 0 9-134 8 37 9-43 8 90 9-102 8 152 9-3 8 3 9 0 8 0 9 0 8-36 9 36 8 0 9-171 8 112 9 59 8-62 9 62 8-32 9 30 8-23 9 25 8-90 9 90 8-245 9 245 8 0 9 0 8-5 9-139 8-87 9 205 8-169 9 30 8 115 9 50 8-112 9 3 8 109 9-146 8 144 9 2 8 0 9-52 8-21 9 73 8-276 9 203 8 2 9-52 8-25 9 148 8-125 9 11 8-57 9 10 8 90 9 71 8-197 9 197 8-111 9-126 8 92 9 75 8-72 9-34 8-42 9 218 8-34 9 34 8-29 9-113 8 142 9-141 8 14 9 113 8-60 9-75 8 149 9 0 8-176 9 176 8 0 9-217 8 94 9 123 8 0 9 0 8-23 9 1 8 22 9 0 8-119 9 1 8 107 9-3 8-50 9-39 8 103 9 0 8-95 9-84 8 179 9 0 8-95 9 58 8 37 9 0 8-127 9-1 8 128 9 0 8-145 9-45 8 154 9 22 8-35 9-98 8 57 9-131 8 191 9 30 8-61 9-88 8-69 9 170 8 48 9-192 8 192 9-177 8 177 9-119 8 39 9 73 8-123 9-2 8 132 9-96 8 64 9 32 8-218 9 181 8 37 9-161 8-117 9 278 8 0 9-19 8 19 9 0 8-131 9 32 8-112 9 26 8 179 9-36 8 42 9-18 8-94 9 112 8-216 9 92 8 21 9 103 8-37 9-70 8 16 9 91 8 0 9-87 8 35 9 52 8-33 9 25 8-34 9-190 8 84 9 138 8 10 9 0 8-227 9 227 8-54 9 54 8-52 9-33 8 85 9-171 8 18 9 0 8 82 9-65 8-1 9 137 8-179 9 179 8-80 9 80 8 0 9-59 8 59 9-50 8 50 9-123 8 22 9 101 8-30 9 30 8-101 9-57 8 158 9 0 8 0 9-98 8-89 9 187 8-146 9 140 8 6 9-117 8 2 9 115 8 0 9-241 8 84 9 14 8-19 9-33 8 195 9 0 8-160 9 160 8-34 9 34 8-9 9-176 8 132 9-215 8 98 9-94 8 139 9-6 8-1 9-1 8-26 9 4 8-1 9 156 8 0 9 0 8-36 9-83 8 15 9 17 8-75 9 162 8-84 9-79 8 81 9 34 8 48 9 0 8-53 9 53 8 0 9-221 8 221 9-32 8-85 9 117 8-45 9 12 8 33 9-80 8-132 9 174 8-76 9 114 8 0 9-84 8 84 9 0 8 0 9-94 8 94 9 0 8 0 9 0 8 0 9 0 8-108 9 57 8 51 9-114 8 80 9-14 8-9 9-140 8 197 9-222 8 149 9-218 8 189 9 102 8-71 9 15 8-24 9-120 8 56 9 68 8 51 9-45 8-146 9 11 8 102 9-162 8 95 9-170 8 109 9-74 8 27 9 35 8-71 9-53 8-27 9-20 8-43 9-18 8-31 9-12 8-36 9-36 8-79 9-38 8-37 9-56 8-28 9-86 8-15 9-54 8-39 9-51 8-53 9-47 8-48 9-70 8-63 9-56 8-39 9-40 8-56 9-45 8-54 9-55 8-44 9-45 8-44 9-41 8-50 9-43 8-52 9-58 8-62 9-58 8-70 9-69 8-56 9-37 8-33 9-21 8-10 9 5 8 10 9 26 8 31 9 45 8 61 9 71 8 64 9 62 8 64 9 63 8 49 9 43 8 54 9 67 8 58 9 21 8 7 9 29 8 59 9 55 8 48 9 50 8 24 9 62 8 37 9 62 8 57 9 80 8 53 9 69 8 22 9 62 8 39 9 53 8 46 9 6 8 43 9 79 8 59 9 52 8 54 9-2 8 49 9 59 8 27 9 15 8 32 9 30 8-60 9 85 8-8 9 37"/>
<path stroke="#8E8E00" d="M529 3470l9 0 8 0 8 0 9 0 9 0 8 0 9 0 8 0 9 0 8 0 9 0 8 0 9 0 8 0 9 0 8 0 9 0 8 0 9-15 8 15 9-12 8 12 9 0 8-12 9-31 8 35 9-68 8-52 9-21 8 5 9-67 8-23 9-63 8 14 9-13 8-16 9-47 8-35 9-29 8-81 9 0 8-41 9-30 8-13 9-54 8-46 9-41 8-79 9-39 8-56 9-58 8-57 9-59 8-34 9-34 8-56 9-43 8-82 9-69 8-78 9-36 8-34 9-24 8-28 9-25 8-46 9-46 8-72 9-58 8-65 9-45 8-36 9-42 8-51 9-54 8-58 9-67 8-71 9-60 8-45 9-32 8-26 9-7 8-4 9 7 8 23 9 31 8 37 9 56 8 70 9 68 8 60 9 55 8 45 9 50 8 45 9 40 8 58 9 52 8 64 9 37 8 50 9 41 8 39 9 40 8 43 9 74 8 58 9 42 8 48 9 43 8 59 9 44 8 45 9 60 8 60 9 73 8 42 9 22 8 0 9 89 8 62 9 85 8 23 9 75 8 4 9 4 8 36 9 7 8 42 9 12 8 55 9 66 8-3 9-24 8 89 9-7 8 51 9 0 8 22 9 77 8-188 9 210 8-115 9 72 8-65 9 145 8-177 9 177 8-139 9 104 8-150 9 68 8 97 9-66 8 54 9-76 8 108 9 0 8 0 9-140 8 140 9 0 8 0 9-19 8-46 9-182 8 247 9-77 8 59 9-35 8-34 9 87 8 0 9-142 8 100 9 42 8-93 9-31 8 124 9-64 8 64 9-203 8 203 9-145 8 145 9-229 8 82 9 47 8 100 9-116 8-60 9 176 8-31 9 31 8-109 9-53 8 162 9-96 8 96 9 0 8 0 9-140 8 29 9 111 8-1 9-82 8-44 9 99 8-21 9-62 8-17 9-67 8 195 9 0 8 0 9-69 8 68 9-48 8-98 9 147 8-167 9 90 8 77 9 0 8-81 9-130 8 158 9 53 8-232 9 124 8 75 9 23 8-311 9 321 8-9 9-29 8-38 9 44 8 32 9-133 8 48 9-120 8 61 9 144 8-77 9 32 8 45 9-138 8 2 9 136 8-222 9 186 8-54 9 90 8-103 9 103 8 0 9-64 8-122 9 186 8 0 9-171 8 17 9 108 8-40 9 86 8 0 9 0 8-9 9-125 8 123 9-41 8-73 9 125 8-150 9 63 8 87 9-21 8 21 9-112 8 61 9 28 8 23 9-95 8-8 9-14 8 117 9-8 8 8 9-141 8 10 9 32 8-44 9 87 8-217 9 254 8-25 9 44 8-82 9 4 8-91 9 79 8 90 9-53 8-4 9-62 8 59 9 60 8-63 9-4 8 67 9 0 8-61 9-96 8 88 9 23 8-55 9 45 8 56 9 0 8-172 9 109 8 63 9-66 8 31 9-218 8 253 9-116 8-56 9 53 8 119 9-67 8 67 9-2 8-118 9 120 8-148 9-62 8 77 9 120 8-207 9 128 8 92 9 0 8-86 9 20 8-44 9 7 8 103 9-1 8-87 9-145 8 77 9-29 8 61 9 91 8 33 9 0 8-46 9-41 8 87 9 0 8 0 9 0 8-198 9-13 8 62 9 32 8 10 9 107 8-266 9 220 8-19 9 65 8 0 9-83 8-78 9 57 8 104 9-212 8 44 9 168 8-2 9-239 8 234 9-1 8-54 9-33 8 57 9-111 8 131 9 18 8 0 9-81 8-170 9 138 8-62 9 87 8 4 9 84 8 0 9-15 8-116 9 106 8 25 9 0 8-14 9-45 8-196 9 255 8 0 9 0 8-215 9 204 8-15 9-79 8-58 9 107 8-61 9 117 8-163 9 32 8-152 9 240 8-144 9 40 8 102 9 45 8-150 9 98 8-157 9 151 8 58 9-62 8 0 9-40 8-23 9 75 8 50 9 0 8-55 9-3 8-108 9 98 8-91 9 79 8 75 9-224 8 185 9 3 8-32 9-82 8 135 9-59 8 79 9-102 8 102 9 0 8 0 9-28 8 28 9-156 8 26 9 130 8-79 9-119 8 198 9-13 8-98 9 111 8-42 9-142 8-43 9 227 8-177 9 177 8-246 9 129 8 75 9 25 8-104 9-90 8 83 9-51 8 13 9 8 8-100 9 79 8 102 9-29 8 106 9 0 8-24 9-42 8 43 9-19 8-132 9 76"/>
</g></g>
<rect x="53.3" y="42.8" width="423.7" height="298.2" fill="none" stroke="#000" stroke-width="1.6"/>
<path d="M83.3 65.2V87.7M432.1 66.6V93.2" stroke="#000" stroke-width="2" fill="none"/>
<path d="M103 76.8H413" stroke="#000" stroke-width="2" fill="none"/>
<path d="M90 76.8L105.5 72.8V80.8ZM426.8 76.8L410.8 72.8V80.8Z" fill="#000"/>
<g font-family="'Liberation Serif',serif" font-weight="bold" font-size="16" fill="#000">
<text x="47" y="48.1" text-anchor="end">0</text>
<text x="47" y="85.4" text-anchor="end">-10</text>
<text x="47" y="122.6" text-anchor="end">-20</text>
<text x="47" y="159.9" text-anchor="end">-30</text>
<text x="47" y="197.2" text-anchor="end">-40</text>
<text x="47" y="234.5" text-anchor="end">-50</text>
<text x="47" y="271.8" text-anchor="end">-60</text>
<text x="47" y="309.0" text-anchor="end">-70</text>
<text x="47" y="346.3" text-anchor="end">-80</text>
<text x="53.3" y="360.6" text-anchor="middle">1018.0</text>
<text x="138.0" y="360.6" text-anchor="middle">1018.5</text>
<text x="222.8" y="360.6" text-anchor="middle">1019.0</text>
<text x="307.5" y="360.6" text-anchor="middle">1019.5</text>
<text x="392.3" y="360.6" text-anchor="middle">1020.0</text>
<text x="477.0" y="360.6" text-anchor="middle">1020.5</text>
<text x="264.3" y="386.5" text-anchor="middle">Wavelength/nm</text>
<text transform="translate(19,192.2) rotate(-90)" text-anchor="middle">Intensity/dBm</text>
<text x="85.2" y="60.1" text-anchor="middle">-20°C</text>
<text x="429.6" y="61.2" text-anchor="middle">175°C</text>
<text x="255.5" y="66.6" text-anchor="middle">2.05nm</text>
</g>
</g>
<g id="chartB">
<clipPath id="cb"><rect x="574.5" y="40.9" width="377.8" height="297.7"/></clipPath>
<path d="M574.50 66.40h6.5M574.50 41.65h3.5M574.50 115.90h6.5M574.50 91.15h3.5M574.50 165.40h6.5M574.50 140.65h3.5M574.50 214.90h6.5M574.50 190.15h3.5M574.50 264.40h6.5M574.50 239.65h3.5M574.50 313.90h6.5M574.50 289.15h3.5M763.40 338.60v-6.5" stroke="#000" stroke-width="2" fill="none"/>
<g clip-path="url(#cb)"><g fill="none" stroke-linejoin="round" transform="scale(.1)">
<path stroke="#FF0000" stroke-width="15" d="M5742 3218l6 30 6-35 6 32 6-16 6 5 6-2 6 6 6-54 6 2 6 59 6-19 6 7 6-36 6 19 6-58 6-1 6 6 6 64 6-15 6 4 6-15 6-11 6 35 6-35 6 17 6-6 6 12 6-9 6-13 6-3 6-40 6 46 6-4 6-5 6-11 6 9 6 13 6-16 6-13 6 10 6 7 6-20 6-8 6 44 6-56 6 51 6-24 6-6 6 6 6-12 6-12 6 12 6 2 6 29 6-40 6 22 6 1 6 43 6-18 6 3 6 15 6-38 6-11 6 32 6-23 6 20 6 23 6-39 6 12 6-17 6-2 6 13 6 16 6-25 6 22 6-31 6-9 6-1 6 11 6-17 6-8 6 25 6 0 6 35 6-34 6 38 6-7 6-1 6-8 6 18 6-33 6-15 6-21 6 33 6 0 6-14 6-6 6 14 6-7 6-23 6 36 6-30 6 4 6 9 6 28 6-47 6 11 6-6 6-14 6-21 6 47 6-11 6 32 6 21 6-17 6-9 6-18 6 20 6-21 6-11 6 12 6 3 6-12 6-3 6-3 6 2 6 24 6 4 6-5 6-7 6-5 6-41 6 54 6 13 6-45 6-17 6 41 6-7 6-11 6 11 6-24 6-21 6-5 6-5 6 28 6-21 6 17 6-51 6 40 6-5 6-9 6 13 6-30 6 15 6-2 6 14 6-16 6 9 6-43 6 23 6 2 6 13 6-24 6 28 6-2 6-1 6-7 6 6 6 0 6-23 6 5 6-11 6-11 6 25 6-3 6-58 6 31 6 8 6-50 6 21 6 2 6-33 6 8 6 0 6-5 6 9 6-11 6 9 6-30 6 37 6 12 6-47 6 28 6 7 6-18 6 0 6-2 6-27 6-22 6 8 6 9 6 8 6-20 6 22 6-4 6-34 6-1 6-45 6 26 6 9 6 27 6-48 6 21 6-3 6-19 6-6 6-1 6-12 6 0 6-52 6 25 6-8 6 12 6-16 6-23 6-15 6-11 6 22 6-34 6 2 6-36 6 3 6-2 6 35 6-30 6-23 6-5 6 27 6-47 6 14 6-37 6 1 6-21 6-5 6 25 6-45 6 6 6-34 6-4 6-6 6-5 6-17 6-22 6-5 6 5 6-22 6 14 6-39 6-12 6 10 6 5 6-13 6-19 6-39 6 3 6-41 6 1 6 23 6-31 6-19 6-14 6-8 6-15 6-31 6 27 6-36 6-18 6-23 6-18 6-13 6-19 6-39 6-16 6-37 6 3 6-35 6-43 6-21 6-26 6-41 6-11 6-39 6-48 6-35 6-42 6-64 6-68 6-47 6-44 6-27 6-43 6-47 6-32 6-36 6-43 6-47 6-60 6-57 6-65 6-64 6-66 6-72 6-84 6-62 6-24 6 25 6 62 6 78 6 73 6 70 6 54 6 68 6 60 6 53 6 50 6 39 6 35 6 30 6 47 6 42 6 41 6 83 6 86 6 51 6 29 6 50 6 27 6 43 6 16 6 20 6 45 6 14 6 23 6 27 6 29 6 26 6 18 6 23 6 17 6 24 6 31 6 15 6 28 6 10 6 12 6 25 6 22 6 25 6-4 6 3 6 25 6-6 6 38 6-16 6 50 6 1 6 15 6 19 6-7 6 28 6 16 6 3 6-2 6 35 6 12 6-1 6 30 6 1 6-2 6-7 6 43 6-11 6 27 6-11 6 15 6 36 6-14 6 56 6 30 6-16 6 1 6 3 6 16 6 27 6-9 6-7 6 28 6-15 6 13 6-14 6 35 6-25 6 31 6 8 6 32 6 13 6 14 6-29 6-1 6-8 6 69 6-20 6-12 6 25 6-22 6 18 6-13 6-8 6 21 6 1 6 24 6-16 6 37 6-25 6 12 6-9 6 22 6 18 6-12 6 16 6 6 6 24 6 15 6-32 6 10 6 2 6-31 6 36 6-16 6 14 6-16 6 31 6-29 6 52 6 11 6-21 6-17 6 45 6-29 6-9 6 51 6-55 6 9 6 10 6 2 6-12 6 57 6-48 6 24 6 18 6 4 6-26 6 5 6 33 6-9 6 10 6-25 6 17 6 31 6-12 6 16 6-5 6-13 6-25 6-4 6-20 6 55 6-8 6-60 6 61 6-29 6-6 6 16 6 7 6 0 6-15 6 55 6-15 6 12 6-27 6-8 6 26 6-58 6 31 6 3 6 28 6 47 6-15 6 8 6 12 6-21 6-7 6-36 6 27 6-9 6 6 6 17 6-18 6 26 6-7 6 7 6-22 6 46 6-37 6-18 6 41 6-13 6-18 6-7 6-6 6 18 6 17 6-17 6 39 6-39 6 27 6 0 6-12 6 18 6-5 6-22 6-1 6 12 6 30 6-1 6-41 6 16 6 18 6-20 6 18 6-27 6-12 6 5 6 9 6 16 6-49 6 27 6 19 6 0 6 36 6-25 6-8 6 20 6 12 6-56 6 29 6 3 6 14 6 27 6-10 6 7 6-2 6-20 6-17 6 12 6 5 6-16 6 3 6 5 6-2 6 7 6 5 6-6 6-5 6-6 6 3 6-13 6 10 6 18 6-24 6 25 6-39 6 43 6 5 6-33 6 45 6-26 6-1 6-8 6 6 6-29 6 22 6-17 6 17 6 7 6-27 6 35 6 3 6-19 6 1 6 0 6-3 6 26 6 21 6-58 6 1 6 0 6 13 6-7 6 6 6 30 6-53 6 8 6-25 6 31 6 0 6-18 6 43 6-29 6 16 6 5 6 16 6-16 6-23 6 46 6-22 6-5 6 34 6-58 6 28 6-34"/>
<path stroke="#0000FF" stroke-width="18" d="M5742 2647l6 26 6-11 6-6 6 4 6 26 6-16 6-18 6 17 6-44 6-4 6 28 6-22 6-8 6 4 6 23 6-12 6-22 6 11 6-34 6-5 6 34 6-32 6 32 6 10 6-42 6-20 6 29 6-2 6 27 6-33 6 7 6-12 6 22 6-6 6-37 6-1 6 16 6-18 6 28 6-2 6-25 6-18 6-14 6-18 6 35 6-32 6-4 6-4 6 12 6 13 6-18 6-56 6 30 6 0 6 5 6 13 6-9 6 32 6-60 6 17 6-42 6-7 6 37 6-8 6-21 6 23 6-38 6 3 6-11 6-26 6 26 6-25 6 23 6 29 6-7 6-29 6-7 6 1 6-39 6 26 6 5 6 19 6-14 6 4 6-41 6 20 6-1 6-25 6-3 6 0 6 3 6 18 6-24 6 21 6-27 6 1 6-24 6 8 6-12 6 57 6-8 6-17 6-31 6 34 6-34 6-21 6-1 6 15 6 29 6-27 6 6 6-11 6-2 6-4 6-24 6 11 6 7 6-11 6 18 6-25 6 10 6-16 6-9 6-21 6 55 6-13 6-14 6-2 6 6 6-16 6-8 6-7 6-31 6 13 6 21 6-24 6 75 6-29 6-21 6-3 6-24 6-14 6 15 6 3 6 22 6-9 6 15 6-4 6-30 6-22 6-34 6 16 6-1 6 23 6 24 6-41 6 18 6-48 6 6 6 4 6-19 6 36 6-11 6 1 6 8 6-16 6-8 6-40 6 3 6-16 6 20 6-7 6 20 6 34 6-8 6-52 6-9 6-6 6-33 6 15 6-4 6 27 6-20 6 44 6-65 6-1 6 6 6-33 6-44 6 54 6-5 6 13 6-31 6 47 6-80 6 28 6-57 6-10 6 38 6-18 6 49 6-4 6-25 6-34 6-17 6-5 6-20 6-9 6 13 6 7 6 18 6-27 6-9 6-5 6-24 6-71 6 47 6-14 6 31 6-18 6-5 6 50 6-82 6-26 6 4 6-3 6 1 6 1 6-13 6 56 6-64 6 13 6-47 6 10 6-23 6 8 6-19 6 8 6-15 6 23 6-23 6-7 6-29 6 3 6-11 6 20 6 10 6-15 6 30 6-17 6-52 6 29 6-54 6 1 6 31 6-22 6 31 6-18 6-5 6 9 6-41 6 4 6-12 6-6 6 6 6-12 6 7 6 10 6-13 6-48 6-3 6-11 6 16 6-9 6-8 6 24 6-16 6-16 6-4 6 11 6-24 6-55 6 63 6-58 6 21 6-6 6 8 6-52 6 0 6-47 6 0 6-7 6 8 6-6 6 37 6-35 6-34 6-6 6-70 6-17 6-4 6-14 6 7 6-13 6-42 6-18 6-28 6-29 6-31 6-55 6-65 6-65 6-61 6-64 6-31 6 31 6 64 6 61 6 65 6 65 6 55 6 38 6 33 6 24 6 9 6 16 6 17 6 20 6 17 6 1 6 10 6 17 6-41 6 46 6 7 6-11 6 57 6 4 6 45 6-39 6 25 6-44 6-1 6 4 6 61 6 0 6 64 6-43 6 31 6-7 6-27 6 13 6 58 6-22 6 45 6 18 6-15 6-42 6 16 6 7 6 23 6-8 6 2 6 24 6 37 6-21 6 18 6-9 6-19 6 2 6 44 6 26 6 14 6 11 6-29 6 15 6-7 6-8 6 19 6 11 6 23 6 11 6 24 6-23 6-30 6 10 6 38 6 24 6 14 6-20 6 39 6-40 6 43 6-5 6-55 6 44 6-6 6 44 6 5 6-8 6 25 6-20 6 6 6-3 6-6 6 26 6 47 6 18 6-31 6 34 6-32 6 11 6-6 6 32 6-11 6 27 6-15 6 22 6-31 6 19 6-20 6 8 6 29 6 16 6 8 6 49 6-49 6 28 6-4 6-12 6-5 6 12 6 8 6 18 6 0 6 4 6 4 6 3 6-37 6 51 6-14 6 71 6-3 6 10 6-34 6-29 6-18 6 25 6-12 6 51 6 15 6-9 6 30 6-24 6-4 6-3 6-26 6 27 6 0 6 39 6-6 6 34 6-12 6-34 6 2 6-4 6 38 6 1 6 10 6 48 6-32 6-5 6-11 6 0 6-31 6 54 6-25 6 7 6 53 6 12 6-25 6-20 6-30 6 43 6-20 6 35 6 0 6 36 6-13 6 11 6-19 6-3 6-16 6 38 6-36 6 56 6-13 6 23 6 22 6-43 6 33 6-28 6 19 6 14 6 18 6-9 6 25 6-9 6 8 6-13 6 15 6 29 6-21 6-18 6 30 6 12 6-8 6 1 6 22 6-35 6 53 6-60 6 38 6 43 6-6 6 20 6-45 6 21 6-21 6 8 6 10 6-5 6 42 6-19 6 31 6-1 6-12 6-7 6 6 6 28 6-38 6 40 6-31 6 58 6-11 6 5 6 9 6-12 6 4 6-10 6 17 6-14 6 27 6 13 6-15 6 26 6-6 6-26 6 12 6 16 6-4 6 28 6 13 6-20 6 28 6 5 6-39 6 18 6-37 6 3 6 47 6-6 6 41 6 13 6-37 6-10 6 16 6 0 6 9 6-15 6 33 6 4 6-24 6 10 6 20 6-28 6-23 6 47 6 13 6-13 6 15 6 11 6-25 6 15 6 14 6-14 6-3 6 0 6 53 6-57 6 32 6-14 6-7 6 7 6-5 6 33 6 13 6 2 6-1 6-12 6-4 6 30 6-20 6-43 6 28 6-6 6 34 6 22 6 11 6-26 6-1 6-7 6-26 6 23 6 15 6 15 6 12 6-7 6 7 6-38 6 24"/>
</g></g>
<rect x="574.5" y="40.9" width="377.8" height="297.7" fill="none" stroke="#000" stroke-width="2"/>
<path d="M665.8 72.1H815.7M669.9 174.8H819.3M689.2 72.1V109.2M689.2 135.9V174.8M716 207.8V184M795.7 197.9L783 184.3" stroke="#000" stroke-width="1.5" fill="none"/>
<path d="M716 175.4L719.2 185.6H712.8ZM777.6 178.4L787.2 183.6L782.4 188Z" fill="#000"/>
<g font-family="'Liberation Serif',serif" font-size="19.5" fill="#000">
<text x="633" y="130.8" textLength="46.5" lengthAdjust="spacingAndGlyphs">20 dB</text>
<text x="680.6" y="232.8" textLength="53" lengthAdjust="spacingAndGlyphs">68kHz</text>
<text x="792" y="222.5" textLength="57.5" lengthAdjust="spacingAndGlyphs">16 kHz</text>
</g>
<g font-family="'Liberation Serif',serif" font-weight="bold" font-size="20" fill="#000">
<text x="567.6" y="73.2" text-anchor="end">-30</text>
<text x="567.6" y="122.7" text-anchor="end">-40</text>
<text x="567.6" y="172.2" text-anchor="end">-50</text>
<text x="567.6" y="221.7" text-anchor="end">-60</text>
<text x="567.6" y="271.2" text-anchor="end">-70</text>
<text x="567.6" y="320.7" text-anchor="end">-80</text>
<text x="574.6" y="360.6" text-anchor="middle">109.85</text>
<text x="763.5" y="360.6" text-anchor="middle">110.00</text>
<text x="951.7" y="360.6" text-anchor="middle">110.15</text>
<text x="665" y="399.2" font-size="26" textLength="197" lengthAdjust="spacingAndGlyphs">Frequency/MHz</text>
<text transform="translate(522.2,278.8) rotate(-90)" font-size="28" textLength="198" lengthAdjust="spacingAndGlyphs">Signal power/dBm</text>
</g>
</g>
<g id="chartC">
<clipPath id="cc"><rect x="1052.2" y="40.2" width="371.1" height="297.8"/></clipPath>
<path d="M1052.20 62.90h6.5M1052.20 85.83h3.5M1052.20 108.75h6.5M1052.20 131.68h3.5M1052.20 154.60h6.5M1052.20 177.53h3.5M1052.20 200.45h6.5M1052.20 223.38h3.5M1052.20 246.30h6.5M1052.20 269.23h3.5M1052.20 292.15h6.5M1052.20 315.08h3.5M1052.20 338.00h6.5M1052.20 338.00v-5.6M1068.86 338.00v-3.3M1078.61 338.00v-3.3M1085.52 338.00v-3.3M1090.89 338.00v-3.3M1095.27 338.00v-3.3M1098.98 338.00v-3.3M1102.19 338.00v-3.3M1105.02 338.00v-3.3M1107.55 338.00v-5.6M1124.21 338.00v-3.3M1133.96 338.00v-3.3M1140.87 338.00v-3.3M1146.24 338.00v-3.3M1150.62 338.00v-3.3M1154.33 338.00v-3.3M1157.54 338.00v-3.3M1160.37 338.00v-3.3M1162.90 338.00v-5.6M1179.56 338.00v-3.3M1189.31 338.00v-3.3M1196.22 338.00v-3.3M1201.59 338.00v-3.3M1205.97 338.00v-3.3M1209.68 338.00v-3.3M1212.89 338.00v-3.3M1215.72 338.00v-3.3M1218.25 338.00v-5.6M1234.91 338.00v-3.3M1244.66 338.00v-3.3M1251.57 338.00v-3.3M1256.94 338.00v-3.3M1261.32 338.00v-3.3M1265.03 338.00v-3.3M1268.24 338.00v-3.3M1271.07 338.00v-3.3M1273.60 338.00v-5.6M1290.26 338.00v-3.3M1300.01 338.00v-3.3M1306.92 338.00v-3.3M1312.29 338.00v-3.3M1316.67 338.00v-3.3M1320.38 338.00v-3.3M1323.59 338.00v-3.3M1326.42 338.00v-3.3M1328.95 338.00v-5.6M1345.61 338.00v-3.3M1355.36 338.00v-3.3M1362.27 338.00v-3.3M1367.64 338.00v-3.3M1372.02 338.00v-3.3M1375.73 338.00v-3.3M1378.94 338.00v-3.3M1381.77 338.00v-3.3M1384.30 338.00v-5.6M1400.96 338.00v-3.3M1410.71 338.00v-3.3M1417.62 338.00v-3.3M1422.99 338.00v-3.3" stroke="#000" stroke-width="1.8" fill="none"/>
<g clip-path="url(#cc)"><g fill="none" stroke-linejoin="round" transform="scale(.1)">
<path stroke="#FF0000" stroke-width="6.5" d="M10522 932l419 45 174 343 94 90 68 45 53 35 43 23 37 18 32 23 28 36 25 15 23 5 21 10 19 8 18 21 16 5 16 23 14 13 14 0 13 7 12-5 12 13 11 8 11-5 10 3 10 6 9-28 9-5 9 28 8-16 8-53 8-25 8 37 7 22 7 27 7 20 7 8 7-10 6-9 6 26 6 8 6 17 6 1 6-9 5-12 6 10 5-3 5 9 5 17 5-22 5 28 5-23 4 24 5 13 4 14 5-48 4 41 4-3 5-2 4-6 4 2 4-3 4 33 4-15 3-10 4 38 4-32 3-38 4 33 3-26 4 21 3 15 4-16 3 20 3 17 3-32 4 8 3 14 3-20 3-4 3 16 3 9 3-31 3 47 3-23 2-10 3 15 3 19 3-25 3 15 2-21 3-3 2-13 3 32 3-16 2 5 3-1 2 41 3-2 2-17 3 5 2-19 2 38 3-13 2-27 2 26 3 14 2-22 2 19 2 22 2-27 3-41 2 11 2 18 2 33 2-13 2-24 2 48 2-30 2 4 2 9 2-19 2-16 2 84 2-90 2 60 2-4 2-37 2-55 2 86 2-68 1 79 2-67 2 106 2-102 2 34 1-7 2-13 2 36 2-13 1-16 2 45 2-23 1 14 2 3 2-42 1 32 2-30 2-13 1 38 2 2 2 35 1 0 2-62 1 42 2 53 1-51 2 3 1-21 2 44 1 22 2-73 1 21 2 51 1-32 2 12 1-46 2 40 1-20 2-21 1-3 1 10 2-35 1-2 2 36 1 34 1 26 2-62 1 74 1-41 2 40 1-38 1-32 2 1 1 12 1 18 2 26 1-11 1 0 1 7 2-77 1 34 1 19 1-20 2 56 1-7 1-31 1 38 2-6 1-38 1-3 1-30 1 19 2 19 1 67 1-39 1-23 1 65 1-24 2-51 1 54 1-39 1-13 1 43 1-20 1-20 2 63 1-25 1-34 1 32 1 48 1-52 1 29 1-19 1-27 1 71 1-14 1 5 2-44 1 6 1 18 1-7 1 35 1-5 1-33 1 16 1 16 1-42 1-7 1 17 1 23 1-17 1 14 1 26 1-49 1 27 1-39 1-2 1 30 1-17 1 7 1 41 1-34 1-42 1 20 0 44 1-27 1-9 1-5 1 40 1-23 1-51 1 49 1 38 1-47 1 29 1-9 0-43 1 53 1-3 1 21 1-36 1-46 1 105 1-49 1 39 1-28 0 8 1-65 1 58 1-71 1 62 1-24 1 20 1-33 1 3 1 23 0-9 1-17 1 72 1-31 1 17 1-45 1-17 1 32 1-11 1 20 0 42 1-36 1 51 1-72 1 43 1-29 1-54 1 68 1-20 1-18 0 49 1-33 1-22 1 16 1 19 1-32 1 17 1 18 1-57 1 59 0 0 1-36 1 31 1 10 1 34 1-39 1-35 1 10 1-25 1 78 0 3 1-77 1 31 1 10 1 9 1-30 1 11 1 19 1-19 1 6 0 35 1-27 1 39 1-61 1 43 1-12 1 42 1-14 1-20 1 12 0-27 1-16 1 24 1-32 1 2 1 47 1-41 1 29 1-11 1 31 0-10 1-12 1-28 1 21 1-2 1 45 1-68 1 56 1-34 1 39 0-32 1 44 1-47 1-17 1 37 1-4 1-29 1 46 1-54 1 48 0 1 1 17 1-3 1-25 1-4 1 7 1-40 1 32 1 0 1-31 0 29 1 31 1-43 1-1 1 25 1 14 1-28 1 39 1-31 1 3 0 23 1 14 1 12 1-52 1 8 1 0 1 32 1-13 1 11 1-10 0-29 1 35 1-12 1-56 1 38 1 33 1 9 1-3 1-7 1-15 0-12 1-29 1 21 1 50 1-32 1 1 1 31 1-16 1-30 1 36 0-8 1-31 1 32 1-4 1-23 1 2 1 13 1 22 1-17 1-13 0 27 1-45 1-9 1 28 1-37 1 74 1-46 1 39 1-43 1 4 0 37 1-27 1 22 1-15 1 14 1-9 1-20 1 47 1-63 1 9 0 5 1 30 1-19 1 22 1 7 1-46 1 46 1-25 1-21 1 24 0 39 1 2 1-47 1 16 1-30 1 53 1-26 1-29 1 5 1-30 0 74 1 9 1 3 1-68 1 53 1-23 1 27 1-8 1-8 1 44 0-4 1-79 1 39 1 23 1-51 1 56 1-28 1-27 1 28 1 35 0-55 1 49 1-4 1-50 1 39 1-51 1 49 1 3 1-8 1-1 0-46 1 58 1-9 1-40 1 37 1 18 1-34 1 43 1-66 1 52 0-40 1 54 1-52 1-16 1 66 1-65 1-10 1-3 1 78 1 19 0-26 1-21 1-4 1 38 1-52 1 45 1-33 1-10 1 76 1-70 0-7 1 28 1-10 1 17 1 18 1-27 1-16 1-23 1 43 1 13 0-38 1 9 1 23 1-1 1 25 1-43 1 5 1-40 1 76 1 1 0-48 1 1 1 31 1-129 1 156 1-1 1-28 1-27 1 30 1-33 0-2 1 49 1-47 1 96 1-123 1 106 1-78 1 9 1 51 1-69 0 26 1 16 1-5 1 69 1-50 1-82 1 62 1 13 1-20 1 19 0-2 1-14 1-28 1-8 1 64 1-36 1 76 1-12 1-54 1-17 0 48 1-47 1 62 1-85 1 94 1-34 1-53 1 64 1 15 1-50 0 4 1 24 1-75 1 75 1 23 1-60 1 36 1 7 1 26 1-72 0 16 1 28 1-18 1 4 1 1 1 7 1-5 1 27 1-19 1-33 0 90 1-39 1-12 1-32 1 48 1-65 1 60 1-9 1-36 1 12 0 13 1 23 1 3 1-39 1 30 1-48 1 5 1 0 1 27 1 3 0 44 1-16 1-44 1-3 1 66 1-38 1-3 1-49 1 15 1 2 0 19 1-3 1-3 1 67 1-58 1-27 1 12 1-27 1 58 1-7 0-78 1 81 1-14 1 52 1-98 1 77 1-27 1-39 1 19 1 7 0 18 1 27 1-29 1 23 1-56 1-9 1 78 1-30 1-45 1-31 0 90 1-33 1 16 1-34 1 39 1 41 1-16 1-15 1-24 1 0 0-28 1-15 1 1 1-6 1 24 1-37 1 39 1 55 1-69 1 19 0 39 1 6 1-62 1 65 1 13 1-19 1-15 1 19 1-16 1-87 0 48 1-26 1 101 1-80 1 86 1-24 1-45 1 9 1-54 1 97 0-31 1 9 1 3 1-35 1 4 1-22 1 30 1 1 1 39 1-78 0-23 1 48 1 51 1-74 1 88 1-40 1 21 1-17 1-7 1-37 0 56 1-13 1-35 1 52 1-24 1-56 1 48 1 43 1 13 1-87 0 34 1 30 1-61 1 38 1-24 1 44 1-30 1-40 1 54 1 21 0-27 1 22 1-17 1-19 1-18 1 14 1-20 1 87 1-83 1 77 0-67 1-8 1 47 1-74 1 35 1 33 1-35 1 74 1-11 1-51 0-7 1 2 1-10 1-3 1 63 1-64 1 45 1 16 1-62 1 58 0-58 1 88 1-70 1 11 1-50 1 75 1 7 1-46 1-6 1 39 0 33 1-48 1-25 1 12 1 69 1-53 1-30 1-17 1 25 1 39 0-1 1-46 1 30 1-12 1 28 1 8 1-64 1 29 1 49 1-40 0 7 1-22 1 3 1 7 1-15 1 62 1-48 1 29 1-23 1 30 0 25 1-41 1-53 1 0 1 96 1-43 1-5 1-24 1-23 1 89 0-56 1 7 1-26 1 47 1-112 1 58 1 33 1-15 1 74 1-63 0-32 1 8 1 26 1 47 1-55 1 56 1-19 1-35 1-27 1 3 0 115 1-103 1 8 1 68 1-33 1 0 1-3 1-22 1 37 1-38 0 40 1-55 1 45 1-72 1 29 1-8 1 44 1 57 1-95 1-9 0 55 1-61 1 14 1 31 1-22 1-43 1 64 1 3 1 9 1 24 0-37 1-34 1 30 1 14 1-39 1 52 1-15 1 46 1-35 1-14 0 16 1-32 1 47 1-72 1 8 1 53 1-55 1 6 1 28 1 26 0-19 1-19 1 36 1-4 1-33 1 3 1 16 1-27 1 2 1 18 0 46 1-110 1 95 1-64 1 58 1-55 1-21 1 71 1-68 1 14 0-12 1 58 1 41 1-109 1 5 1 59 1 2 1 17 1-32 1 42 0-74 1 42 1-1 1-5 1-22 1 60 1-42 1 24 1-22 1 48 0-68 1 37 1-42 1 14 1 67 1-95 1-19 1 82 1 3 1-34 0 49 1-75 1 9 1 30 1-15 1-2 1 30 1-36 1 39 1 19 0 5 1-53 1 33 1-33 1 50 1-63 1 50 1-30 1-34 1 73 0 41 1-24 1-64 1 47 1-3 1-24 1-18 1 15 1-68 1 64 0 12 1-23 1 1 1 21 1-12 1-11 1 50 1 23 1-50 1 43 0-33 1-1 1-62 1 25 1 24 1-41 1 91 1-116 1 73 1 36 0-63 1 57 1 81 1-99 1 22 1-84 1 76 1-9 1-46 1-9 0 18 1 90 1-40 1-46 1-1 1 29 1-23 1 29 1 3 1-14 0 42 1-74 1 27 1-39 1-22 1 91 1 13 1-103 1 104 1-76 0 9 1 17 1 12 1 12 1 22 1-80 1 68 1 6 1-52 1 33 0 7 1-43 1 47 1 54 1-74 1-10 1 20 1-32 1 50 1 27 0 4 1-75 1 68 1-87 1 18 1 17 1 27 1 5 1 40 1-127 0 104 1-22 1-42 1-58 1 113 1-23 1-19 1 19 1-74 1 49 0 63 1-81 1-10 1 20 1 32 1 27 1-27 1-56 1 17 1 15 0 71 1-23 1-6 1 27 1-9 1-8 1-73 1 35 1 30 1-91 0-12 1 93 1-58 1 32 1 50 1-41 1-31 1 9 1 9 1 36 0-29 1-23 1 39 1 10 1-36 1-25 1 39 1-47 1 45 1 13 0-28 1 47 1-72 1 37 1-21 1 70 1-115 1 125 1-27 1-36 0 34 1-68 1 39 1 7 1 57 1-31 1-14 1-56 1-2 1 21 0 41 1-39 1 9 1 28 1-10 1 2 1 6 1-3 1-38 1-11 0 72 1-12 1-22 1-38 1 28 1-25 1 34 1 15 1-24 1 35 0 5 1-1 1-57 1 27 1 0 1 37 1-89 1 93 1-17 1 32 0-94 1 8 1-12 1-7 1 49 1-59 1 85 1-26 1 24 1 15 0-36 1-36 1 25 1 0 1 49 1-38 1 47 1-73 1 9 1-21 0 26 1 12 1-1 1-8 1 23 1-70 1 50 1-23 1 66 1-31 0 37 1-59 1 42 1 33 1-104 1 62 1 7 1-14 1 32 1-20 0 29 1-27 1 47 1-59 1-26 1-69 1 111 1 62 1-80 1-49 0 36 1 66 1-22 1-60 1 12 1 25 1-5 1 33 1-64 1 10 0 31 1-54 1 100 1-48 1 67 1-55 1-14 1-27 1 59 1 6 0-36 1 33 1-77 1 87 1-73 1-7 1-2 1 40 1 29 1-73 0 15 1 75 1-63 1 14 1-46 1 48 1 0 1 53 1-13 1-48 0-10 1 115 1-145 1 35 1-28 1 78 1-2 1-19 1 23 1-35 0 8 1 9 1 46 1-90 1-20 1 37 1 44 1-39 1 33 1 14 0-50 1 11 1-23 1 29 1 3 1 0 1 45 1-21 1 26 1-29 0-65 1 109 1-67 1-14 1 18 1-27 1-19 1 95 1-48 1-18 0-5 1 30 1 22 1-66 1 50 1-56 1 48 1-36 1 63 1-48 0 32 1 10 1-27 1 16 1-65 1 63 1-25 1-22 1-22 1 92 0-71 1 75 1-76 1 63 1-23 1 31 1-13 1-26 1-67 1 105 0-80 1 42 1-41 1 51 1 12 1-58 1 25 1 15 1 43 1-54 0 39 1-51 1 83 1-94 1 25 1 23 1 9 1-21 1 7 1 16 0-42 1-22 1 1 1 1 1 66 1-125 1 40 1 87 1-58 1 33 0-31 1 10 1-9 1 56 1-13 1-61 1 86 1 11 1-74 1-38 0-17 1 48 1-29 1 96 1 7 1 27 1-95 1-16 1 2 1 59 0-7 1 19 1-16 1-44 1 53 1-40 1 70 1-115 1 17 1-24 0 45 1-17 1 32 1-38 1-36 1 45 1 23 1-5 1 29 1-84 0 57 1-33 1 39 1-47 1 20 1 65 1-66 1 90 1-55 1-13 0-39 1 68 1-24 1 70 1-102 1 45 1 54 1-118 1 41 1 49 0-83 1 43 1-38 1 77 1-109 1 76 1-36 1 30 1-2 1-36 0-8 1 147 1-64 1-40 1 37 1-45 1 83 1-3 1-89 1-4 0 54 1-40 1 4 1-23 1 73 1-47 1 13 1 29 1-30 1 29 0-58 1-21 1 76 1-1 1-17 1-38 1 58 1-14 1-16 1-9 0-64 1 89 1-60 1 63 1-25 1 2 1 64 1 12 1-33 1-15 0-47 1 55 1-56 1 40 1 0 1-7 1 27 1-27 1-9 1-24 0 47 1-48 1 7 1 20 1-45 1 19 1 130 1-6 1-50 1 21 0-16 1-37 1-67 1 89 1 9 1-85 1 90 1-17 1 56 1-154 0 47 1 54 1-35 1-43 1 103 1-40 1-79 1 52 1 55 1-100 0 117 1-63 1 14 1-7 1-48 1 23 1 52 1-7 1 56 1-57 0-4 1 39 1-77 1 45 1-11 1 37 1-1 1-66 1-3 1 46 0-52 1 31 1 14 1 29 1-96 1 50 1-3 1-12 1 43 1 17 0 18 1-119 1 31 1 13 1-29 1 29 1 1 1 13 1-23 1 110 0-131 1 22 1-6 1 48 1-13 1-24 1-2 1 2 1 3 1 1 0-21 1 44 1-1 1-23 1 26 1-22 1-17 1 87 1-52 1 60 0-36 1-27 1 31 1-95 1 72 1 12 1 16 1-33 1-51 1 47 0-40 1 44 1 14 1 10 1-46 1 79 1-47 1-35 1-3 1-24 0 64 1 32 1-15 1-38 1 11 1 34 1-36 1-29 1 38 1-25 0 34 1-38 1 12 1 19 1-23 1-5 1 28 1-3 1-27 1 80 0-76 1 45 1-50 1 43 1-48 1 65 1-48 1 5 1 66 1-24 0-28 1 26 1 9 1-53 1 3 1-3 1 33 1 15 1-70 1 77 0-33 1-34 1 32 1 6 1-43 1 49 1-3 1 28 1-10 1-11 0 13 1-51 1 2 1-4 1 6 1-9 1 48 1-37 1 7 1-7 0 1 1 3 1-8 1 23 1 14 1-39 1 52 1-14 1 11 1-17 0-16 1 23 1-6 1 4 1 24 1-40 1 39 1-21 1 17 1-50 0 57 1-6 1-53 1 43 1-54 1 0 1 27 1-7 1 11 1-15 0 20 1-11 1-5 1 46 1-52 1-8 1 35 1-29 1 22 1 21 0-15 1 15 1-25 1-47 1 45 1 12 1-28 1-14 1 61 1-28 0 1 1 7 1 25 1-51 1 57 1-23 1-35 1 44 1-51 1 24 0-16 1-5 1 46 1-7 1-2 1 2 1-24 1 38 1 2 1 3 0-72 1 26 1-11 1 62 1-35 1-13 1 12 1 27 1 33 1-57 0 38 1-35 1 8 1-33 1 58 1-40 1 4 1 58 1-58 1-76 0 118 1-75 1 47 1-36 1 45 1-65 1 91 1-50 1 32 1-26 0 7 1 19 1-40 1-17 1 72 1-62 1 69 1-7 1-32 1-10 0 16 1 9 1 33 1-37 1-19 1 70 1-76 1-8 1 1 1 52 0-13 1-101 1 90 1 35 1-44 1 1 1-48 1 38 1-7 1 44 0 8 1 3 1-14 1-14 1 23 1-33 1 32 1 13 1-7 1-5 0-51 1 47 1-18 1 42 1-69 1 76 1-55 1-35 1 14 1 15 0-9 1 34 1 7 1 5 1-49 1-17 1 30 1 16 1 28 1-42 0 20 1 23 1-47 1-14 1 81 1-52 1-48 1 78 1-19 1-42 0 15 1-12 1 16 1 40 1-28 1-8 1 11 1-23 1-4 1 19 0 3 1-39 1 85 1-69 1 41 1-34 1 25 1 34 1-53 1-3 0-55 1 83 1-42 1 23 1-8 1-14 1 34 1-20 1 56 1-74 0-1 1 33 1 5 1-32 1-14 1-2 1 28 1-25 1-29 1 51 0 38 1-8 1-10 1 17 1-11 1-6 1-50 1-10 1 71 1-23 0 12 1-3 1-51 1 60 1 6 1-12 1-37 1 21 1 16 1-5 0 24 1-43 1 36 1-55 1 43 1 27 1-40 1 38 1-31 1-1 0-22 1 23 1-25 1 18 1 34 1-42 1 37 1-37 1 18 1-24 0 9 1-40 1 52 1-18 1 41 1-45 1 6 1 39 1-22 1-24 0 11 1 20 1 13 1-14 1 15 1-29 1 2 1 5 1-14 1-3 0 20 1 57 1-69 1-25 1 85 1 16 1-20 1-73 1 3 1 33 0-23 1 20 1-9 1 10 1-20 1 40 1-38 1 77 1-57 1-34 0 58 1-13 1-4 1 5 1-47 1 65 1-15 1-38 1 0 1 72 0-83 1 39 1-14 1-28 1 29 1 12 1 47 1-25 1-30 1 8 0 5 1-46 1 19 1 66 1-45 1-34 1-7 1 11 1 25 1-7 0-3 1 67 1-71 1 16 1-58 1 77 1 12 1-10 1-33 1 15 0 5 1-22 1-2 1 4 1-6 1-28 1 39 1-3 1 33 1-21 0-39 1-4 1 25 1 9 1 48 1-53 1 48 1-70 1 56 1-35 0 31 1-56 1 55 1-53 1 26 1 63 1-6 1 13 1-100 1 25 0 69 1-53 1-6 1 22 1-10 1 45 1-47 1-8 1 16 1-59 0-6 1 74 1-37 1 29 1-21 1-32 1 16 1-12 1-10 1 61 0 0 1-5 1-31 1 12 1-15 1 25 1-8 1-55 1 20 1-4 0 23 1 24 1-26 1-16 1 13 1 33 1-32 1-38 1 59 1-24 0 72 1-55 1-6 1 42 1-46 1-7 1 54 1-6 1-32 1-60 0 47 1 43 1-9 1-41 1 38 1 24 1-82 1 25 1-12 1-25 0 74 1-47 1-4 1 25 1 1 1-5 1 35 1-84 1 6 1 31 0-17 1 10 1 43 1-6 1-28 1-6 1-4 1 29 1-51 1 24 0 24 1-23 1-6 1 13 1 43 1 1 1-106 1 56 1 3 1-1 0 33 1-37 1 27 1-43 1-4 1 46 1-13 1 10 1-23 1-28 0 21 1 7 1 7 1-59 1 45 1 7 1 17 1-17 1 31 1-3 0-71 1 33 1-2 1 2 1-21 1 26 1-21 1 47 1 2 1 12 0-19 1-5 1-49 1 16 1 6 1 28 1 10 1-28 1-8 1 32 0-49 1 28 1-2 1 62 1-69 1 16 1 8 1-41 1 36 1 16 0-47 1 73 1-5 1-50 1 13 1 23 1-32 1 34 1 1 1-44 0 8 1-30 1 23 1 9 1-36 1 31 1-18 1-11 1 0 1 10 0 18 1 15 1 27 1-7 1-41 1 9 1-30 1 14 1 44 1-34 0-40 1 56 1-8 1-25 1 80 1-35 1-53 1 1 1-13 1 56 0-5 1-3 1 6 1-39 1 18 1 36 1 1 1-49 1 6 1 25 0 2 1-76 1 25 1 4 1 7 1 5 1 43 1-58 1 22 1-13 0 3 1 0 1-1 1 32 1-25 1 8 1-7 1 1 1 24 1 2 0-11 1-15 1-43 1 71 1-26 1-27 1 28 1 61 1-7 1-67 0 9 1 31 1-20 1 22 1-10 1-20 1 26 1-5 1 44 1-81 0 76 1-107 1 71 1-44 1-28 1 93 1-41 1 6 1 26 1-50 0 83 1-82 1 76 1-20 1 28 1-60 1 0 1-17 1 19 1-30 0 30 1 9 1-27 1-17 1 15 1 40 1-4 1 13 1 77 1-97 0-5 1-16 1 19 1 22 1-5 1 34 1-69 1 73 1-76 1 88 0-26 1 2 1-6 1 15 1 45 1-65 1-22 1 49 1-27 1 30 0-90 1 29 1 60 1 11 1-18 1 29 1-9 1-2 1-41 1-10 0 36 1-41 1 18 1-22 1-27 1 56 1-12 1 73 1-82 1 25 0 30 1-28 1-55 1 88 1-42 1 45 1-38 1 44 1-73 1 51 0 4 1-55 1 37 1-40 1 17 1 6 1-13 1-16 1 37 1 53 0-34 1 19 1-41 1-41 1 35 1 16 1-53 1-25 1 72 1 7 0 23 1-75 1 92 1-13 1-79 1 38 1 84 1-87 1 46 1-40 0 7 1 28 1 8 1-49 1 62 1-71 1 22 1-63 1 99 1 40 0-80 1-46 1 16 1 19 1 23 1-18 1 2 1-43 1-19 1 88 0 24 1-28 1 5 1-73 1 72 1-33 1-9 1 21 1-20 1-1 0 12 1-23 1 60 1-27 1-8 1 21 1-7 1-27 1 14 1 25 0-16 1 44 1 6 1-118 1 135 1-91 1 58 1-10 1 0 1 5 0 8 1-46 1-23 1-21 1 99 1-37 1-59 1 60 1-44 1 74 0-91 1 61 1-59 1 82 1-24 1 7 1-70 1 50 1 43 1-14 0-48 1-2 1 18 1-2 1 7 1-32 1-18 1 55 1 40 1-82"/>
<path stroke="#0000FF" stroke-width="5" d="M13844 2968l0-691 2-27 0 664 2 76 0-727 3-10 0 697 2 250 0-938 2-12 0 723 2-19 0-678 2-4 0 660 3 44 0-712 2-3 0 645 2 124 0-766 2-14 0 735 2-39 0-693 3-1 0 773 2-16 0-742 2-17 0 711 2 88 0-789 2 3 0 680 3 19 0-703 2-3 0 677 2 12 0-674 2-8 0 715 2 18 0-745 3 0 0 714 2 26 0-724 2 11 0 967 2-320 0-648 2-17 0 678 3 39 0-718 2 0 0 712 2 6 0-719 2-1 0 835 2-121 0-702 3-12 0 699 2 12 0-709 2-7 0 910 2-75 0-833 2-7 0 732 3 51 0-778 2 1 0 698 2-33 0-662 2-9 0 916 2-237 0-672 3-1 0 760 2-41 0-721 2 7 0 710 2-23 0-696 2 10 0 713 3 169 0-868 2-31 0 761 2-73 0-677 2-9 0 685 2 64 0-751 3-2 0 765 2-11 0-743 2-10 0 699 2 9 0-709 2 20 0 777 3-30 0-768 2-1 0 737 2-40 0-695 2 9 0 721 2 2 0-734 3 16 0 692 2 5 0-718 2 19 0 713 2 2 0-716 2-17 0 719 3 0 0-714 2-5 0 763 2-37 0-723 2-5 0 735 2-21 0-708 3-5 0 716 2 120 0-821 2-5 0 715 2-28 0-697 2 7 0 696 3 12 0-724 2 0 0 696 2 87 0-775 2-7 0 717 2 217 0-927 3-9 0 769 2-57 0-719 2 1 0 732 2 43 0-773 2-7 0 817 3 83 0-898 2-7 0 740 2-5 0-730 2-1 0 847 2 13 0-872 3 10 0 879 2-153 0-741 2 7 0 768 2-30 0-758 2 11 0 765 3 16 0-788 2-16 0 761 2 35 0-789 2-10 0 816 2-48 0-773 3 4 0 791 2-8 0-801 2-2 0 851 2-22 0-823 2-19 0 811 3 136 0-952 2 25 0 784 2-13 0-809 2-3 0 825 2 20 0-855 3 11 0 807 2-45 0-788 2 0 0 933 2-129 0-806 2-29 0 758 3 30 0-786 2-11 0 696 2 153 0-873 2-9 0 717 2 232 0-965 3-19 0 970 2-245 0-737 2-7 0 651 2-11 0-662 2 9 0 746 3 6 0-727 2 18 0 717 2-20 0-679 2 18 0 650 2 177 0-829 3 17 0 844 2-112 0-709 2 4 0 720 2-3 0-726 2 19 0 929 3-180 0-743 2 9 0 775 2 237 0-1002 2 3 0 832 2-41 0-785 3 17 0 793 2-17 0-775 2 10 0 788 2 77 0-854 2 0 0 940 3-147 0-792 2 12 0 784 2-22 0-765 2 5 0 786 2-12 0-753 3-6 0 780 2 53 0-835 2-5 0 792 2-20 0-753 2-1 0 752 3 15 0-760 2-5 0 836 2-79 0-760 2 25 0 775 2-10 0-772 3 3 0 870 2-147 0-727 2 6 0 862 2 96 0-964 2 1 0 817 3 143 0-961 2 21 0 875 2 93 0-964 2-5 0 1049 2 161 0-1220 3 3 0 1140 2 90 0-1229 2-2 0 1157 2 74 0-1210 2-13 0 1223"/>
</g></g>
<rect x="1052.2" y="40.2" width="371.1" height="297.8" fill="none" stroke="#000" stroke-width="2.2"/>
<g font-family="'Liberation Serif',serif" font-weight="bold" font-size="15.5" fill="#000">
<text x="1044.8" y="68.0" text-anchor="end">-80</text>
<text x="1044.8" y="113.8" text-anchor="end">-100</text>
<text x="1044.8" y="159.7" text-anchor="end">-120</text>
<text x="1044.8" y="205.6" text-anchor="end">-140</text>
<text x="1044.8" y="251.4" text-anchor="end">-160</text>
<text x="1044.8" y="297.2" text-anchor="end">-180</text>
<text x="1044.8" y="343.1" text-anchor="end">-200</text>
<text x="1051.4" y="359.6" text-anchor="middle">10<tspan font-size="9.5" dy="-6">0</tspan></text>
<text x="1106.8" y="359.6" text-anchor="middle">10<tspan font-size="9.5" dy="-6">1</tspan></text>
<text x="1162.1" y="359.6" text-anchor="middle">10<tspan font-size="9.5" dy="-6">2</tspan></text>
<text x="1217.5" y="359.6" text-anchor="middle">10<tspan font-size="9.5" dy="-6">3</tspan></text>
<text x="1272.8" y="359.6" text-anchor="middle">10<tspan font-size="9.5" dy="-6">4</tspan></text>
<text x="1328.2" y="359.6" text-anchor="middle">10<tspan font-size="9.5" dy="-6">5</tspan></text>
<text x="1383.5" y="359.6" text-anchor="middle">10<tspan font-size="9.5" dy="-6">6</tspan></text>
<text x="1238" y="384.5" text-anchor="middle" font-size="17">Frequency/Hz</text>
<text transform="translate(998.6,182.3) rotate(-90)" text-anchor="middle" font-size="17">Signal power/dBm</text>
</g>
</g>
<g font-family="'Liberation Sans',sans-serif" font-size="33" fill="#000" stroke="#000" stroke-width="1.25" stroke-linejoin="round" text-anchor="middle">
<text x="269.5" y="33.8" letter-spacing="1">(a)</text><text x="761.9" y="35.6" letter-spacing="2.6">(b)</text><text x="1238.5" y="32.6">(C)</text>
</g>
<g fill="#000">
<text x="265.6" y="447.9" stroke="#fff" stroke-width="0.4" font-family="'Liberation Sans',sans-serif" font-size="32" textLength="120.8" lengthAdjust="spacingAndGlyphs">1018nm</text>
<text x="385.1" y="450.1" font-family="'Liberation Sans','Noto Sans CJK SC',sans-serif" font-size="34" font-weight="350">单频光纤激光器输出特性：</text>
<text x="792.5" y="447.9" stroke="#fff" stroke-width="0.4" font-family="'Liberation Sans',sans-serif" font-size="32">(a)</text>
<text x="840.5" y="450.1" font-family="'Liberation Sans','Noto Sans CJK SC',sans-serif" font-size="34" font-weight="350">无跳模调谐范围</text>
<text x="1084.9" y="448.3" stroke="#fff" stroke-width="0.4" font-family="'Liberation Sans',sans-serif" font-size="30.5">&gt;</text>
<text x="1110.0" y="447.9" stroke="#fff" stroke-width="0.4" font-family="'Liberation Sans',sans-serif" font-size="32" textLength="65.4" lengthAdjust="spacingAndGlyphs">2nm</text>
<text x="1174.5" y="450.1" font-family="'Liberation Sans','Noto Sans CJK SC',sans-serif" font-size="34" font-weight="350">；</text>
<text x="335.0" y="487.8" stroke="#fff" stroke-width="0.4" font-family="'Liberation Sans',sans-serif" font-size="32" textLength="40.1" lengthAdjust="spacingAndGlyphs">(b)</text>
<text x="383.8" y="490.0" font-family="'Liberation Sans','Noto Sans CJK SC',sans-serif" font-size="34" font-weight="350">测试线宽</text>
<text x="520.1" y="487.8" stroke="#fff" stroke-width="0.4" font-family="'Liberation Sans',sans-serif" font-size="32" textLength="93.2" lengthAdjust="spacingAndGlyphs">800Hz</text>
<text x="611.5" y="490.0" font-family="'Liberation Sans','Noto Sans CJK SC',sans-serif" font-size="34" font-weight="350">；</text>
<text x="646.3" y="487.8" stroke="#fff" stroke-width="0.4" font-family="'Liberation Sans',sans-serif" font-size="32">(c)</text>
<text x="692.2" y="490.0" font-family="'Liberation Sans','Noto Sans CJK SC',sans-serif" font-size="34" font-weight="350">测试强度噪声峰值</text>
<text x="970.6" y="487.8" stroke="#fff" stroke-width="0.4" font-family="'Liberation Sans',sans-serif" font-size="32">&lt;</text>
<text x="998.3" y="487.8" stroke="#fff" stroke-width="0.4" font-family="'Liberation Sans',sans-serif" font-size="32" textLength="144.3" lengthAdjust="spacingAndGlyphs">137dB/Hz</text>
</g>
</svg>
</body></html>
